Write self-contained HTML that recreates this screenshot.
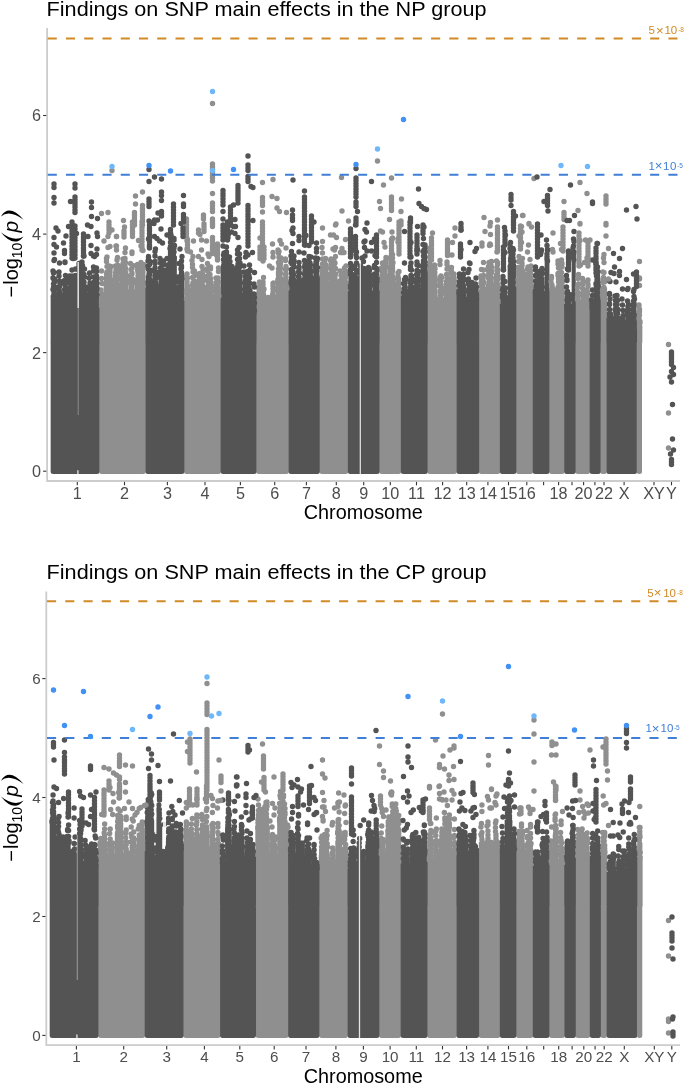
<!DOCTYPE html>
<html><head><meta charset="utf-8"><style>
html,body{margin:0;padding:0;background:#fff;}
svg{display:block;font-family:"Liberation Sans",sans-serif;will-change:transform;}
</style></head><body>
<svg width="685" height="1084" viewBox="0 0 685 1084">
<rect width="685" height="1084" fill="#fff"/>
<text x="46.6" y="16.4" font-size="20" fill="#000" textLength="440" lengthAdjust="spacingAndGlyphs">Findings on SNP main effects in the NP group</text>
<g transform="matrix(1,0,0,1,0,0)">
<rect x="99.10" y="340.8" width="46.70" height="133.1" rx="2.5" fill="#8f8f8f"/>
<rect x="184.00" y="340.8" width="37.00" height="133.1" rx="2.5" fill="#8f8f8f"/>
<rect x="256.20" y="340.8" width="32.70" height="133.1" rx="2.5" fill="#8f8f8f"/>
<rect x="319.50" y="340.8" width="28.70" height="133.1" rx="2.5" fill="#8f8f8f"/>
<rect x="379.30" y="340.8" width="21.90" height="133.1" rx="2.5" fill="#8f8f8f"/>
<rect x="427.40" y="340.8" width="29.50" height="133.1" rx="2.5" fill="#8f8f8f"/>
<rect x="478.80" y="340.8" width="21.40" height="133.1" rx="2.5" fill="#8f8f8f"/>
<rect x="516.00" y="340.8" width="17.10" height="133.1" rx="2.5" fill="#8f8f8f"/>
<rect x="549.10" y="340.8" width="15.40" height="133.1" rx="2.5" fill="#8f8f8f"/>
<rect x="575.40" y="340.8" width="14.60" height="133.1" rx="2.5" fill="#8f8f8f"/>
<rect x="600.40" y="340.8" width="6.40" height="133.1" rx="2.5" fill="#8f8f8f"/>
<rect x="50.65" y="340.8" width="48.80" height="133.1" rx="2.5" fill="#545454"/>
<rect x="145.45" y="340.8" width="38.90" height="133.1" rx="2.5" fill="#545454"/>
<rect x="220.65" y="340.8" width="35.90" height="133.1" rx="2.5" fill="#545454"/>
<rect x="288.55" y="340.8" width="31.30" height="133.1" rx="2.5" fill="#545454"/>
<rect x="347.85" y="340.8" width="31.80" height="133.1" rx="2.5" fill="#545454"/>
<rect x="400.85" y="340.8" width="26.90" height="133.1" rx="2.5" fill="#545454"/>
<rect x="456.55" y="340.8" width="22.60" height="133.1" rx="2.5" fill="#545454"/>
<rect x="499.85" y="340.8" width="16.50" height="133.1" rx="2.5" fill="#545454"/>
<rect x="532.75" y="340.8" width="16.70" height="133.1" rx="2.5" fill="#545454"/>
<rect x="564.15" y="340.8" width="11.60" height="133.1" rx="2.5" fill="#545454"/>
<rect x="589.65" y="340.8" width="11.10" height="133.1" rx="2.5" fill="#545454"/>
<rect x="606.45" y="340.8" width="30.60" height="133.1" rx="2.5" fill="#545454"/>
<rect x="636.7" y="340.8" width="5.3" height="133.1" rx="2.5" fill="#8f8f8f"/>
<path d="M98.75 304.0H104.35V342.8H98.75ZM103.65 282.3H113.35V342.8H103.65ZM112.65 285.0H120.35V342.8H112.65ZM119.65 270.6H128.35V342.8H119.65ZM127.65 289.6H135.35V342.8H127.65ZM134.65 284.0H146.15V342.8H134.65ZM183.65 296.9H190.35V342.8H183.65ZM189.65 292.5H197.35V342.8H189.65ZM196.65 285.2H205.35V342.8H196.65ZM204.65 291.0H213.35V342.8H204.65ZM212.65 294.0H221.35V342.8H212.65ZM255.85 299.8H266.35V342.8H255.85ZM265.65 304.2H276.35V342.8H265.65ZM275.65 277.9H283.35V342.8H275.65ZM282.65 286.7H289.25V342.8H282.65ZM319.15 275.0H328.35V342.8H319.15ZM327.65 284.0H338.35V342.8H327.65ZM337.65 289.6H348.55V342.8H337.65ZM378.95 282.3H388.35V342.8H378.95ZM387.65 276.4H395.35V342.8H387.65ZM394.65 288.1H401.55V342.8H394.65ZM427.05 270.6H437.35V342.8H427.05ZM436.65 299.8H444.35V342.8H436.65ZM443.65 289.6H457.25V342.8H443.65ZM478.45 291.0H486.35V342.8H478.45ZM485.65 288.1H494.35V342.8H485.65ZM493.65 285.2H500.55V342.8H493.65ZM515.65 283.0H525.35V342.8H515.65ZM524.65 286.7H533.45V342.8H524.65ZM548.75 288.0H556.35V342.8H548.75ZM555.65 285.2H564.85V342.8H555.65ZM575.05 299.8H590.35V342.8H575.05ZM600.05 296.6H607.15V342.8H600.05ZM636.35 326.0H642.35V342.8H636.35Z" fill="#8f8f8f"/>
<path d="M50.65 295.4H57.35V342.8H50.65ZM56.65 298.3H62.35V342.8H56.65ZM61.65 296.9H68.75V342.8H61.65ZM68.05 296.0H70.15V342.8H68.05ZM69.45 292.0H78.55V342.8H69.45ZM77.85 292.0H79.95V342.8H77.85ZM79.25 289.6H87.35V342.8H79.25ZM86.65 292.5H99.45V342.8H86.65ZM145.45 282.3H152.35V342.8H145.45ZM151.65 285.2H158.35V342.8H151.65ZM157.65 283.7H166.35V342.8H157.65ZM165.65 284.0H168.35V342.8H165.65ZM167.65 256.0H176.85V342.8H167.65ZM176.15 298.3H179.35V342.8H176.15ZM178.65 276.4H184.35V342.8H178.65ZM220.65 270.6H235.35V342.8H220.65ZM234.65 273.5H242.35V342.8H234.65ZM241.65 292.5H252.35V342.8H241.65ZM251.65 311.5H256.55V342.8H251.65ZM288.55 280.8H296.35V342.8H288.55ZM295.65 285.2H302.35V342.8H295.65ZM301.65 279.4H313.35V342.8H301.65ZM312.65 276.4H319.85V342.8H312.65ZM347.85 291.0H359.55V342.8H347.85ZM358.85 291.0H361.75V342.8H358.85ZM361.05 291.0H372.35V342.8H361.05ZM371.65 291.0H379.65V342.8H371.65ZM400.85 298.3H408.35V342.8H400.85ZM407.65 291.0H414.35V342.8H407.65ZM413.65 288.0H421.35V342.8H413.65ZM420.65 267.7H427.75V342.8H420.65ZM456.55 291.0H466.35V342.8H456.55ZM465.65 296.9H479.15V342.8H465.65ZM499.85 304.0H508.35V342.8H499.85ZM507.65 265.0H516.35V342.8H507.65ZM532.75 291.0H545.35V342.8H532.75ZM544.65 259.0H549.45V342.8H544.65ZM564.15 304.0H572.35V342.8H564.15ZM571.65 258.0H575.75V342.8H571.65ZM589.65 307.0H594.35V342.8H589.65ZM593.65 284.0H600.75V342.8H593.65ZM606.45 317.9H613.35V342.8H606.45ZM612.65 320.6H620.35V342.8H612.65ZM619.65 322.5H625.35V342.8H619.65ZM624.65 324.3H631.35V342.8H624.65ZM630.65 313.2H637.05V342.8H630.65Z" fill="#545454"/>
<path d="M101.5 306h0M101.5 303h0M101.5 301h0M101.5 299.5h0M102 296.5h0M101.5 295.5h0M102 294h0M101 290h0M102 283.5h0M101.5 278.5h0M101.5 271h0M106 284.5h0M106.5 282.5h0M106.5 279.5h0M106.5 277h0M106.5 274h0M107 272h0M107 266.5h0M106.5 261.5h0M106.5 258.5h0M107 257h0M109.5 284.5h0M110 281.5h0M109 280.5h0M109.5 277h0M109.5 273h0M109.5 271.5h0M109.5 267h0M109.5 266h0M110 284.5h0M110 283h0M110.5 281.5h0M110.5 280.5h0M110 278h0M110 275h0M110 271.5h0M110 269h0M111 266.5h0M110 246.5h0M108 247.5h0M115 287h0M115.5 284h0M116 282.5h0M115.5 280.5h0M115 279.5h0M115.5 276.5h0M115.5 273h0M116 270h0M115.5 266h0M117 287h0M117.5 284h0M117 282.5h0M118 279.5h0M118 278h0M117.5 274h0M117 271h0M118 270h0M117.5 267.5h0M117.5 265h0M117 260h0M117.5 257.5h0M116.5 250h0M116.5 236.5h0M122.5 272.5h0M122.5 271.5h0M122 269.5h0M122.5 268.5h0M122 266h0M123 263.5h0M123 259h0M125 272.5h0M125 271.5h0M125.5 268.5h0M125 265.5h0M125.5 262.5h0M125 258.5h0M125 252.5h0M125.5 248h0M124.5 227h0M131 291.5h0M131 289h0M131 287h0M130.5 283.5h0M130.5 280.5h0M130.5 277h0M130.5 275.5h0M131 269.5h0M130.5 263.5h0M132.5 291.5h0M132 289h0M132 286.5h0M132.5 283.5h0M132.5 282h0M132.5 279h0M132 274h0M132 273h0M132 268h0M133 265.5h0M132 252h0M132 253.5h0M138 286h0M137.5 283h0M137.5 281h0M137.5 279.5h0M138 276h0M138 272.5h0M137.5 270h0M137.5 266.5h0M137.5 264.5h0M140.5 286h0M141.5 283.5h0M140.5 281.5h0M141 280.5h0M141 279h0M140.5 276.5h0M140.5 272.5h0M141 270.5h0M141 269.5h0M140.5 267.5h0M141 266h0M141 262.5h0M143.5 286h0M143 283.5h0M143 281.5h0M143 280.5h0M143 277.5h0M143 275.5h0M143 272h0M143.5 268h0M143.5 264.5h0M143 250.5h0M138.5 240.5h0M141 246h0M186.5 299h0M187 296h0M186.5 293h0M186.5 290h0M187 286.5h0M187 283h0M187 280.5h0M187 274h0M187 299h0M188 296h0M187 294.5h0M187.5 292h0M187.5 289h0M187.5 287.5h0M187.5 286.5h0M187 284.5h0M187 280h0M187.5 278h0M187 249h0M187 240.5h0M192.5 294.5h0M192.5 292.5h0M192.5 290h0M193 287.5h0M192.5 285h0M193 282.5h0M192.5 277.5h0M193 272h0M192.5 267.5h0M192.5 264.5h0M194 294.5h0M194.5 291.5h0M194.5 289.5h0M194.5 287h0M194 284h0M194.5 281h0M195 275.5h0M194.5 272.5h0M194.5 271h0M193.5 241h0M193 256.5h0M199 287h0M199 284.5h0M199.5 283h0M199.5 280.5h0M199.5 278.5h0M200 277h0M199.5 275.5h0M199.5 273.5h0M202.5 287h0M202.5 285.5h0M202 284h0M202.5 281.5h0M203 279h0M203 276h0M202.5 274h0M203 269.5h0M202 266.5h0M202 259.5h0M200 234.5h0M201.5 250h0M208 293h0M208 291h0M207.5 290h0M207 287.5h0M208 286h0M208 282h0M207.5 280.5h0M207.5 276h0M207.5 271h0M207 269.5h0M207.5 268.5h0M207.5 263.5h0M210 293h0M211 290.5h0M210 287.5h0M211 286h0M210.5 283.5h0M210.5 281.5h0M210.5 278.5h0M210 274.5h0M210.5 269h0M210.5 267h0M208 254h0M209 256.5h0M216 296h0M216 293.5h0M215.5 291.5h0M215.5 288.5h0M216 284.5h0M216 282.5h0M216 278h0M219 296h0M218.5 293h0M218.5 290.5h0M218.5 288.5h0M218 287h0M218 284.5h0M218.5 282h0M218 278h0M218.5 271.5h0M218.5 268h0M216.5 255h0M259.5 302h0M259 301h0M258.5 298.5h0M258.5 296.5h0M258.5 295h0M258.5 293.5h0M259 289.5h0M259.5 286h0M259.5 282h0M262.5 302h0M263.5 299.5h0M263.5 298.5h0M263 297h0M263 295.5h0M262.5 293h0M263 288.5h0M263 285h0M263 282h0M263 302h0M263 299.5h0M263 298.5h0M263.5 294.5h0M263.5 290.5h0M264 289h0M263 284h0M263.5 277.5h0M260 238h0M263 261h0M269 306h0M268 304h0M268.5 301.5h0M268 300h0M268 297.5h0M273 306h0M273 304.5h0M273.5 303h0M273.5 300.5h0M273 297h0M272.5 295h0M273.5 290.5h0M273 286h0M273 283.5h0M273.5 306h0M273 303.5h0M274 302h0M274 299h0M273 298h0M273.5 296h0M273 292.5h0M273 289h0M273.5 287.5h0M273.5 283h0M269.5 266h0M272 268h0M278 280h0M278.5 277.5h0M278.5 274.5h0M278.5 272.5h0M278.5 269h0M279 265h0M278.5 262.5h0M279 257.5h0M278.5 253.5h0M279 251.5h0M278 250h0M280.5 280h0M280.5 278.5h0M280 277h0M280 274.5h0M280.5 273h0M280 269.5h0M280.5 268h0M280.5 264h0M280.5 262.5h0M281 258h0M280 240.5h0M285.5 288.5h0M286 286h0M285.5 284.5h0M285.5 282.5h0M285.5 280h0M285.5 278.5h0M285.5 274.5h0M285.5 269.5h0M286 267h0M285.5 260.5h0M285.5 259h0M287 288.5h0M286.5 286.5h0M286.5 285.5h0M286 282.5h0M286.5 281h0M286 277h0M286 273.5h0M286.5 269h0M286 266.5h0M286 248h0M322.5 277h0M322 274.5h0M322.5 272.5h0M322.5 269.5h0M322.5 267.5h0M322.5 264h0M322.5 259h0M322.5 253h0M322 247.5h0M325.5 277h0M325 275h0M326 272.5h0M325 270.5h0M325.5 269h0M326 267h0M325 266h0M325.5 264.5h0M325 260h0M325.5 258.5h0M322.5 241.5h0M331 286h0M330.5 284h0M330.5 282.5h0M331 281h0M330.5 279h0M330.5 275.5h0M331 273.5h0M330.5 268.5h0M331 264.5h0M330.5 260.5h0M331 259h0M334 286h0M333.5 284h0M334 281h0M333.5 279.5h0M333.5 277h0M334 273h0M333.5 269h0M333.5 267.5h0M334 265h0M334 260.5h0M335.5 286h0M335.5 284.5h0M335.5 283.5h0M335.5 281h0M335 279.5h0M335 276.5h0M335.5 274h0M335.5 268.5h0M335 263h0M335.5 256.5h0M334.5 250h0M333 249h0M340.5 291.5h0M340 290h0M340.5 288.5h0M340.5 285.5h0M340 282.5h0M340.5 280.5h0M341 275.5h0M340 271h0M344.5 291.5h0M344.5 289.5h0M345 288.5h0M344.5 285.5h0M344.5 283h0M344.5 280.5h0M344.5 278.5h0M344.5 275.5h0M344.5 273h0M344.5 268h0M346 291.5h0M346 290h0M345 289h0M346 287.5h0M345.5 285h0M346 282.5h0M345 279.5h0M345.5 277.5h0M345.5 276h0M346 274.5h0M345.5 271h0M346 266h0M342.5 252.5h0M340.5 252.5h0M344 252.5h0M382 284.5h0M381.5 282h0M381.5 280.5h0M381.5 278h0M382 275.5h0M382 272h0M381.5 268h0M382.5 263h0M385.5 284.5h0M385.5 283h0M385.5 280h0M385.5 277h0M386 275.5h0M385 272.5h0M385 271h0M385.5 267.5h0M386 264.5h0M385.5 261.5h0M386 259.5h0M386 257.5h0M384 242.5h0M385 247h0M390.5 278.5h0M391 277h0M391 275.5h0M390.5 274h0M390.5 271h0M390 268h0M390.5 267h0M391 262h0M390.5 257.5h0M392.5 278.5h0M392.5 276h0M392 275h0M392 273h0M392.5 271h0M392.5 269.5h0M392.5 267.5h0M392.5 265h0M392.5 264h0M393 262.5h0M392.5 258h0M392.5 254.5h0M392 232h0M392.5 238h0M397.5 290h0M397.5 288h0M397.5 285.5h0M397.5 283h0M397.5 279h0M398 278h0M398 273h0M398.5 290h0M398 288h0M398.5 286.5h0M398.5 284.5h0M399 283.5h0M398.5 280.5h0M398.5 278.5h0M398 276.5h0M399 271.5h0M398 239h0M398 242h0M430.5 272.5h0M430.5 271.5h0M430 270h0M429.5 267h0M430 265.5h0M429.5 263.5h0M430.5 259h0M430 256.5h0M429.5 252h0M430.5 251h0M430 248h0M434.5 272.5h0M434 271h0M435 268.5h0M434.5 267h0M434.5 265h0M439.5 302h0M439 299h0M440 298h0M440 296h0M440 292.5h0M440 291h0M439.5 286h0M439.5 285h0M440 282h0M439.5 280h0M440 277.5h0M441.5 302h0M441.5 299h0M441 297.5h0M441.5 294h0M441.5 292.5h0M442 291h0M441.5 288h0M441 284.5h0M441 280.5h0M441.5 277.5h0M441 276h0M440 264.5h0M440 260.5h0M446.5 291.5h0M446.5 289h0M446.5 286h0M446.5 284.5h0M446.5 281.5h0M447 278h0M446.5 274.5h0M447 269h0M447 264.5h0M447 262h0M451 291.5h0M451.5 289.5h0M451.5 287h0M451.5 285.5h0M451.5 284h0M451 281h0M451.5 278h0M451.5 274h0M451 272h0M451.5 271h0M451.5 267.5h0M454 291.5h0M454.5 289h0M454.5 286.5h0M454 285h0M454 283h0M454.5 281h0M454 278h0M454 274h0M448.5 255h0M452 255h0M452.5 242.5h0M481.5 293h0M482 291.5h0M481.5 290.5h0M482 288h0M481.5 286.5h0M481 283h0M482 281.5h0M481.5 279.5h0M481.5 277.5h0M481 276h0M481.5 269.5h0M483 293h0M483 291h0M484 289h0M483 287h0M483.5 283h0M483.5 282h0M483 278.5h0M483.5 275.5h0M483.5 270h0M483.5 262.5h0M482 243h0M482 246h0M488.5 290h0M488.5 289h0M488.5 287.5h0M488.5 285.5h0M489 282h0M488.5 278h0M488 275.5h0M488.5 271h0M488 268.5h0M488.5 266.5h0M489 262.5h0M491.5 290h0M492 289h0M491.5 287h0M492 284.5h0M491 283.5h0M491 281h0M491 277h0M491.5 272.5h0M491.5 271h0M491 269h0M491.5 267h0M491 265.5h0M491.5 261.5h0M489.5 245.5h0M490.5 245h0M496.5 287h0M496.5 285h0M497 283h0M496.5 281.5h0M496.5 279.5h0M496 278.5h0M496.5 275h0M497 270.5h0M497 268h0M496.5 261h0M498 287h0M497.5 284.5h0M497 282h0M497.5 280h0M497.5 278.5h0M497.5 276.5h0M497.5 274.5h0M497.5 271.5h0M498 270h0M497 267.5h0M497.5 264.5h0M497.5 262.5h0M497.5 246h0M497 252h0M518 285h0M518.5 283h0M518.5 281h0M518 279.5h0M519 277.5h0M518.5 274.5h0M518.5 271h0M518.5 267.5h0M518.5 261.5h0M519 256.5h0M522.5 285h0M522 283h0M522.5 281.5h0M522 278.5h0M521.5 275h0M522 273.5h0M522 271h0M522 265.5h0M522 263h0M522 285h0M522.5 283h0M522.5 279h0M522.5 276h0M523 272h0M522 269.5h0M522 264h0M522.5 258.5h0M519 236h0M527.5 288.5h0M527.5 287h0M527.5 284.5h0M527.5 283h0M527.5 281h0M527 278h0M527 277h0M528 275.5h0M527.5 274h0M527.5 269h0M528 267h0M530.5 288.5h0M531 286.5h0M530.5 285h0M530.5 283.5h0M530.5 281.5h0M531 278h0M530.5 273.5h0M530.5 270.5h0M531 266h0M530 259.5h0M528.5 245h0M527.5 252h0M552 290h0M552 288.5h0M552 287h0M552 285h0M551 281.5h0M551.5 278h0M551.5 276.5h0M553 290h0M553 288.5h0M552.5 249.5h0M553 252h0M558.5 287h0M559 285h0M558.5 282h0M558.5 279h0M558 275.5h0M558 273.5h0M558.5 268h0M558 264h0M558 261h0M562 287h0M561.5 285.5h0M562 283.5h0M561.5 282h0M562.5 281h0M561.5 279h0M562 277.5h0M561.5 272.5h0M562 267h0M562 263.5h0M561.5 260h0M560.5 243.5h0M561.5 249.5h0M578.5 302h0M577.5 299.5h0M577.5 298.5h0M577.5 297h0M578.5 295h0M578 293h0M577.5 292h0M577.5 287.5h0M578.5 284h0M578 278.5h0M578.5 274.5h0M583 302h0M583 300.5h0M583 299h0M583 297h0M583 296h0M582.5 294.5h0M583 292.5h0M582.5 288.5h0M582.5 284.5h0M583 281.5h0M582.5 278.5h0M587 302h0M587.5 299.5h0M587 297h0M587 295.5h0M587.5 293.5h0M587.5 292.5h0M587 290h0M588 286.5h0M588 284.5h0M587.5 282h0M588 280h0M580 240.5h0M584.5 262.5h0M580.5 265h0M587 258h0M603 298.5h0M602.5 295.5h0M603 293h0M602.5 290.5h0M603.5 287.5h0M603 282.5h0M603 279h0M603.5 277.5h0M603 272h0M604 298.5h0M604.5 297h0M604 295h0M604.5 294h0M604.5 291.5h0M604.5 289h0M604 287.5h0M604.5 282h0M604.5 279.5h0M604 272.5h0M604 262.5h0M603.5 258h0M639.5 328h0M639.5 325.5h0M640 323h0M639.5 322h0M639 319h0M639.5 315h0M639.5 311.5h0M639 309.5h0M639 305h0M639.5 326.5h0M639.5 324h0M640 321.5h0M639 318h0M639 315.5h0M639 314.5h0M639.5 309.5h0M639 307.5h0M639.5 278h0" stroke="#8f8f8f" stroke-width="5.4" stroke-linecap="round" fill="none"/>
<path d="M54 297.5h0M53.5 296h0M54 293h0M54 291.5h0M53 289.5h0M53.5 287.5h0M53.5 284h0M54 280h0M53 278h0M53.5 273h0M53 271h0M54.5 297.5h0M55 296h0M54.5 293.5h0M54 292h0M54 289.5h0M54.5 286.5h0M54.5 282h0M54.5 279h0M54 272.5h0M54 260.5h0M54.5 259.5h0M60 300.5h0M59.5 298h0M59.5 295h0M59.5 292h0M59 289.5h0M59.5 286.5h0M60 283.5h0M59.5 281h0M59 276h0M59 272h0M59.5 263h0M65 299h0M64.5 296.5h0M65 295.5h0M64.5 294.5h0M65 292.5h0M64.5 289.5h0M65 285h0M64.5 284h0M64.5 280.5h0M66 299h0M66.5 296.5h0M66.5 293.5h0M66 291.5h0M66 288.5h0M65.5 283.5h0M65.5 280h0M65.5 275.5h0M65 262h0M65 262.5h0M68.5 298h0M69 296.5h0M69.5 294.5h0M69.5 293h0M69.5 290h0M69 288.5h0M69.5 287.5h0M69.5 282.5h0M69 281.5h0M69 277.5h0M69.5 276h0M72.5 294h0M72 292.5h0M72 290.5h0M72 288h0M72 285.5h0M72.5 284h0M72.5 281h0M72 276h0M72 270h0M75.5 294h0M76 292h0M75.5 289h0M75.5 288h0M76 284.5h0M75.5 280.5h0M75 277h0M75.5 275.5h0M75.5 269h0M73.5 258.5h0M73 258.5h0M79.5 294h0M79 292.5h0M79.5 290h0M79 286.5h0M79.5 284h0M78.5 281.5h0M78.5 277.5h0M79 274.5h0M79 270.5h0M79 266.5h0M79 265h0M79 263.5h0M82 291.5h0M82 290h0M82 288h0M82 285h0M82 284h0M81.5 280h0M82.5 276.5h0M82.5 273.5h0M82 270.5h0M82.5 265.5h0M82 262h0M84 291.5h0M84 290.5h0M84.5 289h0M85 287h0M84 285h0M84 282h0M84.5 277h0M84 274.5h0M84.5 269h0M84 256h0M83.5 256h0M89 294.5h0M90 291.5h0M89 289.5h0M89.5 286.5h0M90 283h0M89 278h0M89.5 273h0M93.5 294.5h0M93 292.5h0M94 291h0M93 290h0M94 286.5h0M93 284h0M93.5 282.5h0M93.5 277h0M93.5 271h0M93.5 267h0M97 294.5h0M96 292.5h0M96.5 290.5h0M97 288h0M96.5 285.5h0M97 283h0M96.5 281.5h0M96.5 280h0M96.5 278h0M96.5 276h0M96.5 271.5h0M96.5 268h0M93.5 256h0M96.5 254.5h0M94.5 256.5h0M148.5 284.5h0M148 282h0M148.5 281h0M148.5 279h0M148.5 277h0M149 274h0M148.5 269.5h0M148 266h0M148 261h0M148.5 257.5h0M148.5 256.5h0M149 284.5h0M150 283h0M149.5 280.5h0M149.5 279h0M149 277.5h0M149.5 275h0M149.5 273.5h0M150 270h0M149.5 264.5h0M150 261.5h0M149.5 246.5h0M148.5 239h0M154.5 287h0M154.5 285.5h0M154 284h0M154.5 282h0M154.5 280.5h0M155 277.5h0M155 276h0M154.5 271.5h0M155 268h0M155 263.5h0M155 256h0M156 287h0M155.5 285.5h0M155.5 284h0M155.5 282h0M155.5 278.5h0M155 275.5h0M156 273.5h0M156 272h0M155 261.5h0M155.5 249h0M155 251.5h0M160.5 285.5h0M161 282.5h0M161 280h0M160 277.5h0M160.5 274.5h0M160.5 271.5h0M160.5 268h0M160.5 263h0M160 258.5h0M164 285.5h0M163 283.5h0M163 282h0M164 279.5h0M164 275.5h0M164 270.5h0M163 265h0M163.5 261h0M162.5 243h0M161 229h0M167.5 286h0M166.5 285h0M167.5 282h0M166.5 281h0M167 278h0M167 275h0M167.5 271h0M166.5 270h0M167.5 265h0M167 258.5h0M171 258h0M170.5 256.5h0M170.5 254.5h0M170.5 252h0M171 250h0M170 248.5h0M170.5 246.5h0M170.5 242.5h0M171 240h0M170.5 237.5h0M171 235h0M170.5 232.5h0M170.5 229.5h0M174 258h0M173.5 256h0M173.5 253.5h0M174 252h0M174 248h0M174.5 245.5h0M174 240h0M174 238.5h0M177.5 300.5h0M178 298h0M178 296h0M177.5 295h0M177.5 293h0M177.5 289h0M178 287.5h0M178 282h0M178 279h0M178 277h0M179 263.5h0M182 278.5h0M182 276h0M181.5 274h0M181.5 272.5h0M181 269h0M181.5 267.5h0M181.5 266h0M181 264.5h0M181.5 261h0M182 256.5h0M224 272.5h0M223.5 270h0M223.5 268.5h0M223.5 266h0M224 262.5h0M223.5 259.5h0M223.5 255h0M224 253h0M223 246h0M226 272.5h0M226.5 271.5h0M226.5 269h0M226.5 268h0M226.5 264.5h0M226.5 261.5h0M226 259.5h0M226 257.5h0M226.5 255h0M226.5 252h0M226.5 247h0M230 272.5h0M230 271h0M229.5 269h0M229.5 265.5h0M230 261.5h0M229.5 257h0M232 272.5h0M232.5 271.5h0M232.5 270h0M233 268.5h0M232 266.5h0M228.5 234h0M231.5 232h0M227 232h0M228 237.5h0M237.5 275.5h0M237 273.5h0M237.5 271.5h0M238 269h0M237.5 267h0M238 266h0M238 264h0M237.5 259.5h0M237.5 254h0M237.5 250h0M239.5 275.5h0M239.5 274h0M239 272h0M239 270.5h0M239.5 267h0M240 263h0M239.5 258.5h0M239.5 254h0M239 247.5h0M238 237.5h0M245 294.5h0M245 292.5h0M244.5 289.5h0M245 288h0M245 287h0M244.5 283h0M245 281h0M245 276.5h0M244 272h0M244 266h0M247.5 294.5h0M247.5 292h0M247.5 288.5h0M247.5 286.5h0M247 284h0M247.5 282.5h0M247.5 280.5h0M247.5 275.5h0M247.5 271.5h0M249.5 294.5h0M250 292h0M250 290.5h0M249 287h0M249.5 283h0M249.5 278h0M249 275.5h0M249.5 271h0M250 270h0M249.5 265h0M245.5 257h0M246 252.5h0M253.5 313.5h0M254 312.5h0M254.5 310.5h0M254 308h0M254 305.5h0M254.5 303h0M254 301.5h0M254.5 297.5h0M254 294h0M254.5 287h0M254 284h0M254.5 272.5h0M291 283h0M291.5 280.5h0M291.5 278h0M292 276.5h0M291.5 273.5h0M291.5 271h0M291.5 269.5h0M292 264h0M291 262.5h0M291.5 260h0M291 256h0M291.5 251.5h0M293.5 283h0M293.5 280.5h0M293.5 279.5h0M293 278h0M293 276h0M293.5 274.5h0M293 272h0M294 267h0M293.5 263.5h0M294 260.5h0M293 259h0M294 256h0M292.5 243.5h0M292 230.5h0M298.5 287h0M298.5 285.5h0M298.5 283.5h0M298.5 281h0M299 279h0M298.5 276.5h0M298.5 272h0M299 269h0M299 262.5h0M299.5 287h0M299.5 285.5h0M299.5 282.5h0M299.5 280h0M299 277h0M299.5 273h0M299 267h0M299 252h0M299 240.5h0M305 281.5h0M305 280h0M304.5 279h0M305 276h0M304.5 274h0M305 271h0M304.5 267h0M305 264.5h0M304.5 260.5h0M304 253h0M309 281.5h0M308.5 278.5h0M309 276h0M308.5 274h0M309 271h0M308.5 267h0M308.5 262.5h0M309 260.5h0M309 256.5h0M311 281.5h0M310.5 279.5h0M310 278.5h0M310.5 276h0M310.5 272.5h0M310.5 270.5h0M310 267.5h0M310.5 265h0M310 263h0M311 257h0M305.5 245h0M309 245.5h0M306 235.5h0M315 278.5h0M316 276h0M316 274.5h0M315.5 271.5h0M315.5 268h0M315.5 265h0M316 262h0M315.5 258h0M316.5 278.5h0M316.5 276h0M316.5 273h0M317 271h0M317.5 267.5h0M316.5 263.5h0M317 260.5h0M317.5 258.5h0M316.5 252h0M316.5 248.5h0M316.5 243h0M350.5 293h0M351.5 291.5h0M351 289h0M350.5 288h0M351 287h0M350.5 285.5h0M351 282h0M351 280h0M351 277.5h0M350.5 274.5h0M350.5 272h0M350.5 269.5h0M351 266.5h0M350.5 263.5h0M355 293h0M355 291.5h0M355 289h0M355 286h0M354.5 283.5h0M355 281h0M355 278h0M355 274.5h0M354.5 268.5h0M354.5 267h0M355 266h0M356.5 293h0M357 290.5h0M357 288h0M356.5 284.5h0M356.5 282.5h0M357 278h0M357 272h0M356.5 270.5h0M356.5 263h0M356 255h0M356.5 252h0M356.5 257.5h0M360 293h0M360.5 291h0M360.5 290h0M360 287h0M360.5 283.5h0M360 280.5h0M360.5 277.5h0M360 273h0M360.5 269h0M360.5 266h0M362 258h0M364.5 293h0M364.5 291.5h0M363.5 289h0M364 286.5h0M364 283h0M363.5 279.5h0M364.5 278h0M363.5 276.5h0M363.5 275.5h0M364.5 271.5h0M364 268.5h0M363.5 261.5h0M368.5 293h0M368.5 292h0M368.5 290h0M368.5 288.5h0M368 287h0M368 283.5h0M368.5 281h0M368 277.5h0M368 275.5h0M368.5 273h0M368.5 267.5h0M369.5 293h0M369.5 290.5h0M369.5 289.5h0M369.5 287.5h0M369 286.5h0M369.5 282.5h0M369 280h0M370 276.5h0M369.5 274.5h0M369.5 270.5h0M365 256h0M364.5 247.5h0M364 242h0M375 293h0M375 291h0M375 288h0M375 287h0M374.5 285.5h0M374 284.5h0M374.5 280.5h0M374 279h0M374.5 274h0M374 267.5h0M374.5 265.5h0M376.5 293h0M376.5 290.5h0M376.5 289.5h0M376.5 287.5h0M376.5 285h0M376.5 282.5h0M377 281.5h0M376.5 279.5h0M377 278.5h0M376.5 274.5h0M377 270.5h0M376.5 268.5h0M376.5 262.5h0M374.5 239h0M375 255.5h0M404 300.5h0M403.5 297.5h0M404 295.5h0M403.5 292.5h0M404 288.5h0M403.5 283.5h0M404.5 279.5h0M406 300.5h0M405.5 297.5h0M406 295h0M405.5 293.5h0M405 290.5h0M405 286.5h0M405 283h0M405.5 280h0M405.5 277.5h0M404.5 263h0M411 293h0M410.5 291.5h0M410 290h0M410 289h0M410.5 287h0M410.5 283h0M411 282h0M410.5 280h0M411 275.5h0M410.5 269.5h0M410.5 266.5h0M411 263h0M412 290.5h0M411.5 289h0M411 287.5h0M411 285.5h0M411.5 282h0M412 278.5h0M411 277h0M411.5 276h0M411.5 270h0M411 242.5h0M411 257h0M416 290h0M416 288.5h0M416 286.5h0M417 284h0M416 282h0M417 279h0M416.5 274.5h0M417 270.5h0M417 265h0M417 262h0M418 290h0M418 288h0M418.5 286h0M418 283.5h0M418.5 282h0M419 279h0M418 274.5h0M418.5 271.5h0M418.5 265.5h0M417.5 249.5h0M417 250h0M423.5 269.5h0M424 268.5h0M423 267h0M423.5 265.5h0M423.5 262.5h0M423.5 260.5h0M423.5 256h0M424 255h0M423 251.5h0M424 250h0M423 244.5h0M423.5 238.5h0M424.5 269.5h0M424.5 267h0M425 265.5h0M424.5 264h0M425 261.5h0M425 257.5h0M424.5 255.5h0M425 251.5h0M425 248.5h0M425 246.5h0M425 245h0M424 227h0M459 293h0M459 291h0M460 289h0M459 285.5h0M459.5 283h0M459.5 281.5h0M459.5 277h0M459.5 274h0M463 293h0M463 292h0M463.5 289h0M463.5 286.5h0M463 284.5h0M463.5 280h0M463.5 278.5h0M463.5 274.5h0M463.5 269h0M461 230h0M461 249.5h0M468.5 299h0M469 296h0M469 293.5h0M468.5 291.5h0M468.5 290h0M469 288.5h0M468.5 284h0M468 281h0M468.5 279h0M468 272.5h0M469 269.5h0M472 299h0M472 297h0M472 295.5h0M472.5 293.5h0M472.5 292.5h0M472 289h0M472 287.5h0M472.5 286h0M472 282.5h0M475.5 299h0M476 298h0M476.5 296h0M476.5 294.5h0M476 291h0M476 289.5h0M476 288.5h0M475.5 287h0M475.5 284h0M476 278h0M476.5 299h0M476 296.5h0M476.5 294h0M476 292.5h0M476 290.5h0M476.5 287h0M475 251.5h0M469.5 263h0M470 263.5h0M502.5 306h0M503 304h0M503 302.5h0M503 300.5h0M502.5 297.5h0M502.5 294.5h0M502.5 290h0M503 287.5h0M503 283h0M503 279h0M503 276.5h0M505 306h0M505 304.5h0M505.5 302.5h0M506 301.5h0M505.5 298.5h0M505.5 297h0M505 292.5h0M505.5 288h0M505 281.5h0M503.5 269.5h0M505 252.5h0M510.5 267h0M510.5 265.5h0M511 263h0M510.5 261h0M510.5 258.5h0M511 256h0M510.5 252h0M510 248.5h0M510.5 247h0M510 244h0M510.5 242.5h0M513 267h0M513.5 265.5h0M513 263.5h0M513.5 261.5h0M513 259.5h0M513 258h0M513 254h0M513.5 250h0M513 248.5h0M535.5 293h0M535.5 290.5h0M536 287.5h0M536 285h0M535.5 281h0M535.5 275.5h0M535.5 270h0M535.5 267h0M539 293h0M539.5 290h0M538.5 288h0M539 286.5h0M539.5 284h0M539.5 281h0M539 279.5h0M539 275h0M538.5 273h0M539 271.5h0M542.5 293h0M542 291.5h0M542 289h0M542.5 287h0M542 285h0M542 283h0M542 281.5h0M542 278.5h0M542.5 273.5h0M542.5 269.5h0M542 268.5h0M539 251.5h0M540.5 254.5h0M541 252.5h0M547.5 261h0M547 258.5h0M547 256.5h0M547 254h0M547.5 250.5h0M547.5 249.5h0M547 245.5h0M546.5 240h0M567 306h0M567.5 304.5h0M567.5 302.5h0M567.5 301h0M567 300h0M567.5 297h0M567 293h0M567.5 291.5h0M566.5 287h0M567 280.5h0M567 279.5h0M566.5 275.5h0M569 306h0M569 304h0M569 302h0M569.5 300h0M569.5 297.5h0M570 294.5h0M569 252h0M567.5 269h0M574 260h0M573.5 258h0M573.5 255h0M573.5 253.5h0M574 252h0M573 248h0M573.5 246h0M574 241.5h0M573.5 239h0M574 231.5h0M592.5 309h0M592 307h0M592 305h0M592 303h0M592.5 301.5h0M591.5 300h0M592.5 295.5h0M592.5 290h0M592.5 260h0M597 286h0M596 283.5h0M597 282h0M597 280h0M596.5 276h0M597 272.5h0M596.5 268.5h0M596 263.5h0M598 286h0M597.5 284h0M598 282h0M597.5 280h0M597.5 279h0M597.5 277h0M597.5 275h0M598 271.5h0M597.5 267h0M597.5 243.5h0M597 243.5h0M609.5 320h0M609.5 319h0M609.5 316h0M609.5 313.5h0M609.5 309.5h0M609.5 304.5h0M609.5 303.5h0M610 299h0M609.5 294.5h0M609.5 293.5h0M610.5 320h0M610.5 317h0M610.5 314h0M609.5 281h0M610 281.5h0M615.5 322.5h0M615 320h0M615.5 318.5h0M615.5 317.5h0M616 315h0M616 313h0M615.5 311h0M615 309.5h0M616 307h0M615.5 304.5h0M615.5 300.5h0M615 296h0M617.5 322.5h0M617.5 320h0M618 318h0M617 315h0M617.5 313.5h0M618 309.5h0M617 304.5h0M617.5 300.5h0M617 295.5h0M616 282h0M622 324.5h0M622.5 322h0M622.5 320.5h0M622.5 318h0M623 315.5h0M623 310.5h0M622.5 305h0M622 299h0M622.5 289h0M628 326.5h0M627 324h0M627 321.5h0M628 318.5h0M627.5 315.5h0M628 314.5h0M627.5 313.5h0M628 308h0M628 306.5h0M627.5 301h0M628.5 326.5h0M628 324h0M629 322.5h0M628.5 321h0M628 319h0M629 318h0M629 314h0M628 310.5h0M628 308.5h0M628.5 304.5h0M628 288.5h0M627.5 289.5h0M633.5 315h0M634 313.5h0M634 312h0M633 309.5h0M633.5 308.5h0M633 305h0M633.5 301h0M634 296.5h0M633.5 291.5h0M634 289.5h0M634 315h0M634 314h0M633.5 311.5h0M633.5 309.5h0M634 306h0M634 304.5h0M634 303h0M634.5 299h0M633.5 274h0" stroke="#545454" stroke-width="5.4" stroke-linecap="round" fill="none"/>
</g>
<path d="M78.2 262V308" stroke="#fff" stroke-width="1.5" stroke-opacity="0.85"/>
<path d="M78.2 308V415" stroke="#fff" stroke-width="0.8" stroke-opacity="0.4"/>
<path d="M360.3 262V474.5" stroke="#fff" stroke-width="1.2" stroke-opacity="0.85"/>
<path d="M77.9 470.3V474.5" stroke="#fff" stroke-width="1.3" stroke-opacity="0.85"/>
<path d="M101.5 213.5h0M108 212.5h0M112 170.5h0M123.5 220.5h0M135.5 196h0M135.5 204h0M134.5 212.5h0M134.5 215h0M134.5 217.5h0M134.5 220h0M134.5 222.5h0M134.5 225h0M142.5 192h0M142.5 205.5h0M142.5 208.5h0M142.5 211h0M142.5 214h0M142.5 216.5h0M142.5 219.5h0M142.5 222h0M142.5 225h0M203.5 215h0M203.5 217h0M203.5 219h0M186.5 219h0M212.5 164h0M212.5 167h0M212.5 169.5h0M212.5 172.5h0M212.5 175.5h0M212.5 178h0M212.5 181h0M212.5 193.5h0M212.5 203h0M212.5 205.5h0M212.5 208.5h0M212.5 211.5h0M212.5 219h0M212.5 221h0M212.5 223h0M212.5 225h0M212.5 103.5h0M262.5 182.5h0M273 179.5h0M262.5 197.5h0M262.5 200.5h0M262.5 203h0M262.5 205.5h0M262.5 212h0M262.5 222h0M272 196.5h0M277 198.5h0M277 208h0M279.5 211.5h0M286.5 212.5h0M377.5 161h0M341.5 177.5h0M383.5 185h0M391.5 178h0M379.5 201.5h0M380.5 208.5h0M391.5 197h0M391.5 199.5h0M391.5 202.5h0M391.5 205h0M391.5 208h0M391.5 210.5h0M401.5 199h0M401 211.5h0M342 211h0M348.5 221h0M336 224h0M389.5 219.5h0M401 221h0M401 223h0M401 225h0M522.5 215.5h0M484 217.5h0M490.5 222.5h0M497.5 220h0M534 178.5h0M580 182.5h0M587 193.5h0M564 201.5h0M606 196h0M606 199h0M606 201.5h0M606 204h0M523 215.5h0M564 212.5h0M564 214.5h0M564 217h0M564 219.5h0M578 210.5h0M580 223.5h0M606 223.5h0M529 223.5h0M668.5 344.5h0M668.5 413h0M668.5 448h0M124 231h0M124 233h0M124 235h0M124 237h0M142 222h0M142 225h0M142 227.5h0M142 230.5h0M142 233h0M142 236h0M142 239h0M142 241.5h0M142 244.5h0M142 247h0M142 250h0M132.5 222h0M132.5 225h0M132.5 228h0M132.5 231h0M132.5 233.5h0M132.5 236.5h0M109 222h0M109 225h0M109 227.5h0M109 230h0M109 233h0M112 230h0M104 241h0M108 236.5h0M116.5 236.5h0M116.5 246h0M116 246h0M186.5 222h0M186.5 225h0M186.5 228h0M186.5 231h0M186.5 233.5h0M186.5 236.5h0M187.5 239.5h0M187.5 242.5h0M187.5 245h0M187.5 248h0M187.5 251h0M204 224h0M204 226.5h0M204 229h0M204 231.5h0M212.5 222h0M212.5 224h0M212.5 226.5h0M212.5 237.5h0M212.5 240h0M212.5 242.5h0M212.5 245.5h0M212.5 248h0M212.5 250.5h0M212.5 253.5h0M217.5 244h0M217.5 246.5h0M217.5 249.5h0M217.5 252h0M217.5 254.5h0M217.5 257.5h0M217.5 260h0M190.5 252h0M198.5 230h0M198.5 233h0M201.5 240h0M206.5 241h0M198.5 256.5h0M192 260.5h0M262.5 225h0M262.5 228h0M262.5 231h0M262.5 234h0M262.5 237h0M262.5 240h0M262.5 243h0M262.5 246h0M260 247h0M260 250h0M260 253h0M260 255.5h0M260 258.5h0M264 247h0M264 250h0M264 253h0M264 255.5h0M264 258.5h0M272.5 244h0M273 252.5h0M273 257h0M281.5 244h0M322.5 228h0M330.5 235h0M333.5 235h0M335.5 225h0M336.5 237.5h0M345.5 239.5h0M335.5 247.5h0M342 248.5h0M391.5 239.5h0M391.5 242.5h0M391.5 245.5h0M391.5 248.5h0M391.5 251h0M391.5 254h0M391.5 257h0M391.5 260h0M391.5 263h0M391.5 266h0M399 222h0M399 225h0M399 228h0M399 230.5h0M399 233.5h0M399 236.5h0M399 239.5h0M399 242.5h0M399 245.5h0M399 248h0M399 251h0M399 254h0M380.5 231h0M382.5 232h0M392 239.5h0M431.5 238h0M431.5 241h0M431.5 243.5h0M431.5 246h0M431.5 249h0M431.5 252h0M431.5 254.5h0M431.5 257h0M431.5 260h0M447.5 240h0M447.5 242.5h0M447.5 245h0M447.5 248h0M447.5 250.5h0M447.5 253h0M447.5 255.5h0M432.5 233h0M455 228h0M455 236h0M497.5 227h0M497.5 229.5h0M497.5 232.5h0M497.5 235h0M497.5 238h0M497.5 240.5h0M497.5 243h0M497.5 246h0M497.5 248.5h0M497.5 251h0M485 231.5h0M490.5 234.5h0M490 226h0M490 244h0M520.5 226h0M520.5 229h0M520.5 232h0M520.5 234.5h0M520.5 237.5h0M520.5 240.5h0M520.5 243h0M520.5 246h0M520.5 249h0M521.5 226.5h0M522 232h0M521.5 242.5h0M529 224h0M531.5 227h0M563 227h0M563 230h0M563 233h0M563 236h0M563 239h0M563 242h0M563 245h0M563 248h0M563 251h0M553 233h0M579 233h0M579 236h0M579 239h0M579 242h0M579 245h0M579 248h0M579 251h0M579 254h0M579 257h0M579 260h0M579 263h0M579 266h0M588 243h0M588 246h0M588 248.5h0M588 251.5h0M588 254.5h0M588 257h0M588 260h0M588 263h0M588 266h0M580 224h0M585.5 240h0M590 240h0M606 225h0M606 236h0M608.5 248.5h0M604 254.5h0M608.5 279h0M639.5 261.5h0M639.5 279h0M639.5 285.5h0" stroke="#8f8f8f" stroke-width="5.4" stroke-linecap="round" fill="none"/>
<path d="M54 184h0M54 187.5h0M54 197.5h0M54 203h0M75 184h0M75 188h0M75 197h0M75 199.5h0M75 202h0M75 204.5h0M75 207h0M75 210h0M75 212.5h0M70.5 201.5h0M91.5 202h0M91.5 207.5h0M91.5 216.5h0M97.5 218.5h0M149 169.5h0M154.5 177h0M149 181.5h0M161.5 179h0M161.5 192h0M161.5 195.5h0M161.5 200.5h0M149 199h0M149 201.5h0M149 204h0M149 206.5h0M161.5 211.5h0M161.5 213.5h0M161.5 216h0M158 213h0M149 221h0M183.5 195.5h0M183.5 204h0M183.5 206.5h0M183.5 214.5h0M183.5 217h0M183.5 219.5h0M183.5 222h0M173.5 204h0M173.5 207h0M173.5 210h0M173.5 213h0M173.5 216h0M173.5 219h0M173.5 222h0M173.5 225h0M154.5 220h0M157.5 220h0M223 190.5h0M223 193.5h0M223 196h0M223 199h0M223 202h0M223 205h0M223 211.5h0M223 219h0M238 185.5h0M238 188h0M238 190.5h0M238 193h0M238 196h0M238 198.5h0M233.5 205h0M230.5 207h0M230.5 210h0M230.5 213h0M230.5 216h0M230.5 219h0M230.5 222h0M230.5 225h0M235 219.5h0M248 156h0M248 165h0M248 168h0M248 170.5h0M248 176.5h0M248 179h0M248 181.5h0M253 187.5h0M251 186.5h0M238 191h0M238 194h0M238 197h0M238 200h0M238 203h0M248 205.5h0M248 208.5h0M248 211h0M248 214h0M248 216.5h0M248 219.5h0M248 222h0M248 225h0M253 220.5h0M293 180h0M304.5 191h0M304.5 197h0M304.5 199.5h0M304.5 202.5h0M304.5 205.5h0M304.5 208h0M304.5 211h0M304.5 214h0M304.5 216.5h0M304.5 219.5h0M304.5 222h0M304.5 225h0M292.5 210h0M292.5 215h0M292.5 218h0M292.5 220.5h0M311.5 216h0M311.5 219h0M311.5 222h0M311.5 225h0M314 222h0M356 168.5h0M356 178h0M356 180.5h0M356 183.5h0M356 186h0M356 189h0M356 191.5h0M356 194h0M356 197h0M371.5 181.5h0M418.5 189h0M356 202h0M356 204h0M356 206.5h0M357.5 211.5h0M419 203.5h0M421.5 206.5h0M424 208.5h0M426.5 209.5h0M356 218h0M356 220.5h0M356 222.5h0M356 225h0M367 223h0M410.5 218h0M410.5 220h0M410.5 222.5h0M511 194.5h0M511 197.5h0M511 200h0M511 205.5h0M513.5 211.5h0M513.5 214h0M513.5 217h0M513.5 219.5h0M513.5 222.5h0M513.5 225h0M515.5 216h0M461 223.5h0M537 177h0M570.5 185h0M550 189.5h0M547.5 195.5h0M547.5 198h0M547.5 200.5h0M547.5 203h0M547.5 205.5h0M544 201.5h0M548 211h0M592.5 203.5h0M592.5 202h0M569.5 220.5h0M567 220.5h0M574.5 215.5h0M626.5 210h0M636 206.5h0M637 219h0M671.5 352h0M671.5 354.5h0M671.5 357h0M671.5 359.5h0M671.5 362h0M671.5 364.5h0M673.5 367.5h0M671.5 371.5h0M670 377h0M673.5 374.5h0M671.5 382h0M672.5 404.5h0M672.5 439h0M673.5 450h0M670.5 454h0M671.5 459.5h0M671.5 462h0M671.5 464.5h0M72 222h0M72 225h0M72 228h0M72 231h0M72 234h0M72 237h0M72 240h0M72 243h0M72 246h0M72 249h0M72 252h0M72 255h0M72 258h0M75 226h0M75 229h0M75 232h0M75 234.5h0M75 237.5h0M75 240.5h0M75 243.5h0M75 246.5h0M75 249.5h0M75 252h0M75 255h0M75 258h0M83.5 234h0M83.5 237h0M83.5 239.5h0M83.5 242h0M83.5 245h0M83.5 248h0M83.5 250.5h0M83.5 253h0M83.5 256h0M56 228h0M58 231h0M54 237.5h0M54 244.5h0M56.5 247h0M54 253h0M63.5 243h0M64.5 250.5h0M64.5 253.5h0M68.5 226.5h0M66 236h0M76.5 233.5h0M87.5 225h0M91 226.5h0M97 233h0M97.5 236.5h0M91 245.5h0M97 249h0M91 253.5h0M88 236.5h0M149.5 222h0M149.5 225h0M149.5 228h0M149.5 230.5h0M149.5 233.5h0M149.5 236.5h0M149.5 239.5h0M149.5 242h0M149.5 245h0M149.5 248h0M183 228h0M183 230.5h0M183 233.5h0M183 236.5h0M154 223.5h0M154.5 236.5h0M159.5 241h0M157 238.5h0M167 235h0M181 223.5h0M180 249h0M223 225h0M223 228h0M223 231h0M223 234h0M223 237h0M223 240h0M227.5 222h0M227.5 225h0M227.5 228h0M227.5 231h0M227.5 234h0M227.5 237h0M227.5 240h0M248 228h0M248 231h0M248 234h0M248 237h0M248 240h0M248 243h0M248 246h0M233.5 226.5h0M235 233.5h0M235.5 226.5h0M252.5 252.5h0M248 255h0M304.5 228h0M304.5 230.5h0M304.5 233.5h0M304.5 236.5h0M304.5 239h0M304.5 242h0M304.5 245h0M311.5 227.5h0M311.5 230.5h0M311.5 233.5h0M311.5 236.5h0M311.5 239h0M311.5 242h0M293 228h0M293 233.5h0M299 236.5h0M350.5 229h0M350.5 232h0M350.5 234.5h0M350.5 237.5h0M350.5 240h0M350.5 243h0M350.5 246h0M350.5 248.5h0M350.5 251.5h0M350.5 254h0M350.5 257h0M355.5 236.5h0M355.5 239.5h0M355.5 242.5h0M355.5 245.5h0M355.5 248.5h0M355.5 251h0M376.5 235h0M376.5 238h0M376.5 240.5h0M376.5 243h0M376.5 246h0M376.5 249h0M376.5 251.5h0M376.5 254h0M376.5 257h0M355.5 225h0M365 229.5h0M366.5 232h0M365 241h0M371.5 242.5h0M367 251h0M371.5 251h0M410 222h0M410 225h0M410 228h0M410 231h0M410 233.5h0M410 236.5h0M410 239.5h0M410 242.5h0M410 245.5h0M410 248h0M410 251h0M410 254h0M410 257h0M417 235h0M417 237.5h0M417 240.5h0M417 243h0M417 246h0M417 248.5h0M417 251.5h0M417 254h0M423 225h0M423 228h0M423 231h0M423 233.5h0M404.5 231.5h0M417.5 226.5h0M460.5 244h0M460.5 246.5h0M460.5 249h0M460.5 252h0M460.5 254.5h0M460.5 257h0M461 224h0M461 227h0M461 230h0M470 242.5h0M476.5 248.5h0M513.5 222h0M513.5 228h0M513.5 231h0M503.5 247h0M503.5 250h0M503.5 253h0M503.5 255.5h0M503.5 258.5h0M503.5 261.5h0M503.5 264h0M503.5 267h0M503.5 270h0M505 231h0M505 234h0M505 236.5h0M505 239.5h0M505 242h0M505 245h0M504.5 227.5h0M505.5 235h0M537.5 224h0M537.5 227h0M537.5 230h0M537.5 233h0M537.5 236h0M537.5 239h0M537.5 242h0M537.5 245h0M537.5 248h0M537.5 251h0M537.5 254h0M537.5 257h0M541 235h0M541.5 250h0M568.5 251h0M568.5 253.5h0M568.5 256.5h0M568.5 259h0M568.5 262h0M568.5 264.5h0M568.5 267.5h0M568.5 270h0M596 248h0M596 251h0M596 253.5h0M596 256.5h0M596 259h0M596 262h0M596 264.5h0M596 267.5h0M596 270h0M596 273h0M622.5 248.5h0M613.5 253.5h0M619.5 258.5h0M614.5 267h0M611 272.5h0M614 273.5h0M619.5 271.5h0M619.5 275.5h0M626.5 279.5h0M636.5 272h0M636.5 275h0M636.5 278h0M636.5 280.5h0M636.5 283.5h0M636.5 286.5h0" stroke="#545454" stroke-width="5.4" stroke-linecap="round" fill="none"/>
<path d="M47.1 28V481.0H680" fill="none" stroke="#cccccc" stroke-width="1.8"/>
<path d="M43.1 471.2h3.2" stroke="#333333" stroke-width="1.1"/>
<text x="41.0" y="477.1" font-size="16.2" fill="#4d4d4d" text-anchor="end">0</text>
<path d="M43.1 352.6h3.2" stroke="#333333" stroke-width="1.1"/>
<text x="41.0" y="358.5" font-size="16.2" fill="#4d4d4d" text-anchor="end">2</text>
<path d="M43.1 234.1h3.2" stroke="#333333" stroke-width="1.1"/>
<text x="41.0" y="240.0" font-size="16.2" fill="#4d4d4d" text-anchor="end">4</text>
<path d="M43.1 115.5h3.2" stroke="#333333" stroke-width="1.1"/>
<text x="41.0" y="121.4" font-size="16.2" fill="#4d4d4d" text-anchor="end">6</text>
<path d="M77.3 481.9v3.4" stroke="#333333" stroke-width="1.1"/>
<text x="77.3" y="499.2" font-size="16.2" fill="#4d4d4d" text-anchor="middle">1</text>
<path d="M124.5 481.9v3.4" stroke="#333333" stroke-width="1.1"/>
<text x="124.5" y="499.2" font-size="16.2" fill="#4d4d4d" text-anchor="middle">2</text>
<path d="M167.4 481.9v3.4" stroke="#333333" stroke-width="1.1"/>
<text x="167.4" y="499.2" font-size="16.2" fill="#4d4d4d" text-anchor="middle">3</text>
<path d="M205.0 481.9v3.4" stroke="#333333" stroke-width="1.1"/>
<text x="205.0" y="499.2" font-size="16.2" fill="#4d4d4d" text-anchor="middle">4</text>
<path d="M240.4 481.9v3.4" stroke="#333333" stroke-width="1.1"/>
<text x="240.4" y="499.2" font-size="16.2" fill="#4d4d4d" text-anchor="middle">5</text>
<path d="M274.7 481.9v3.4" stroke="#333333" stroke-width="1.1"/>
<text x="274.7" y="499.2" font-size="16.2" fill="#4d4d4d" text-anchor="middle">6</text>
<path d="M306.4 481.9v3.4" stroke="#333333" stroke-width="1.1"/>
<text x="306.4" y="499.2" font-size="16.2" fill="#4d4d4d" text-anchor="middle">7</text>
<path d="M336.3 481.9v3.4" stroke="#333333" stroke-width="1.1"/>
<text x="336.3" y="499.2" font-size="16.2" fill="#4d4d4d" text-anchor="middle">8</text>
<path d="M363.7 481.9v3.4" stroke="#333333" stroke-width="1.1"/>
<text x="363.7" y="499.2" font-size="16.2" fill="#4d4d4d" text-anchor="middle">9</text>
<path d="M390.3 481.9v3.4" stroke="#333333" stroke-width="1.1"/>
<text x="390.3" y="499.2" font-size="16.2" fill="#4d4d4d" text-anchor="middle">10</text>
<path d="M416.5 481.9v3.4" stroke="#333333" stroke-width="1.1"/>
<text x="416.5" y="499.2" font-size="16.2" fill="#4d4d4d" text-anchor="middle">11</text>
<path d="M442.6 481.9v3.4" stroke="#333333" stroke-width="1.1"/>
<text x="442.6" y="499.2" font-size="16.2" fill="#4d4d4d" text-anchor="middle">12</text>
<path d="M466.7 481.9v3.4" stroke="#333333" stroke-width="1.1"/>
<text x="466.7" y="499.2" font-size="16.2" fill="#4d4d4d" text-anchor="middle">13</text>
<path d="M487.9 481.9v3.4" stroke="#333333" stroke-width="1.1"/>
<text x="487.9" y="499.2" font-size="16.2" fill="#4d4d4d" text-anchor="middle">14</text>
<path d="M508.5 481.9v3.4" stroke="#333333" stroke-width="1.1"/>
<text x="508.5" y="499.2" font-size="16.2" fill="#4d4d4d" text-anchor="middle">15</text>
<path d="M526.8 481.9v3.4" stroke="#333333" stroke-width="1.1"/>
<text x="526.8" y="499.2" font-size="16.2" fill="#4d4d4d" text-anchor="middle">16</text>
<path d="M543.6 481.9v3.4" stroke="#333333" stroke-width="1.1"/>
<path d="M558.6 481.9v3.4" stroke="#333333" stroke-width="1.1"/>
<text x="558.6" y="499.2" font-size="16.2" fill="#4d4d4d" text-anchor="middle">18</text>
<path d="M572.0 481.9v3.4" stroke="#333333" stroke-width="1.1"/>
<path d="M583.6 481.9v3.4" stroke="#333333" stroke-width="1.1"/>
<text x="583.6" y="499.2" font-size="16.2" fill="#4d4d4d" text-anchor="middle">20</text>
<path d="M594.9 481.9v3.4" stroke="#333333" stroke-width="1.1"/>
<path d="M604.0 481.9v3.4" stroke="#333333" stroke-width="1.1"/>
<text x="604.0" y="499.2" font-size="16.2" fill="#4d4d4d" text-anchor="middle">22</text>
<path d="M624.1 481.9v3.4" stroke="#333333" stroke-width="1.1"/>
<text x="624.1" y="499.2" font-size="16.2" fill="#4d4d4d" text-anchor="middle">X</text>
<path d="M654.0 481.9v3.4" stroke="#333333" stroke-width="1.1"/>
<text x="654.0" y="499.2" font-size="16.2" fill="#4d4d4d" text-anchor="middle">XY</text>
<path d="M671.5 481.9v3.4" stroke="#333333" stroke-width="1.1"/>
<text x="671.5" y="499.2" font-size="16.2" fill="#4d4d4d" text-anchor="middle">Y</text>
<text x="363.2" y="519.4" font-size="19.5" fill="#000" text-anchor="middle" textLength="119" lengthAdjust="spacingAndGlyphs">Chromosome</text>
<g transform="translate(17.5,296.8) rotate(-90)" fill="#000"><text font-size="20"><tspan x="-0.8" y="0.8">&#8722;</tspan><tspan x="12" y="0">log</tspan><tspan x="38.5" y="4.6" font-size="14">10</tspan><tspan x="64.2" y="0" font-style="italic" font-size="21">p</tspan></text></g>
<path transform="translate(0,0.0)" d="M0.9 216.6Q9 203.2 23.6 219.8Q9 209.2 0.9 216.6Z M0.9 232.2Q14 248.6 23.6 236.4Q14 242.6 0.9 232.2Z" fill="#000"/>
<path d="M47.7 38.5H678" stroke="#d08a26" stroke-width="2" stroke-dasharray="9.1 9.156"/>
<path d="M47.7 174.8H678" stroke="#3f7fd6" stroke-width="2" stroke-dasharray="9.1 9.156"/>
<path d="M112 166.5h0M212.5 170.5h0M212.5 91.5h0M377.5 149h0M561 165.5h0M587.5 166.5h0" stroke="#6fb7fb" stroke-width="5.4" stroke-linecap="round" fill="none"/>
<path d="M149 165.5h0M170.5 171h0M233.5 169.5h0M356 164.5h0M403.5 119.5h0" stroke="#4292f6" stroke-width="5.4" stroke-linecap="round" fill="none"/>
<text y="33.7" font-size="11.5" fill="#d08a26"><tspan x="648.44">5</tspan><tspan x="656.05" dy="0.8" font-size="13.2">×</tspan><tspan x="664.5 670.85" dy="-0.8">10</tspan></text>
<text x="678.2" y="31.6" font-size="6.5" fill="#d08a26">-8</text>
<text y="169.6" font-size="11.5" fill="#3f7fd6"><tspan x="648.4">1</tspan><tspan x="654.65" dy="0.8" font-size="13.2">×</tspan><tspan x="663.0 669.95" dy="-0.8">10</tspan></text>
<text x="677.1" y="167.8" font-size="6.5" fill="#3f7fd6">-5</text>
<text x="46.6" y="578.9" font-size="20" fill="#000" textLength="440" lengthAdjust="spacingAndGlyphs">Findings on SNP main effects in the CP group</text>
<g transform="matrix(1.00208,0,0,1,-1.06,0)">
<rect x="99.10" y="904.6" width="46.70" height="133.5" rx="2.5" fill="#8f8f8f"/>
<rect x="184.00" y="904.6" width="37.00" height="133.5" rx="2.5" fill="#8f8f8f"/>
<rect x="256.20" y="904.6" width="32.70" height="133.5" rx="2.5" fill="#8f8f8f"/>
<rect x="319.50" y="904.6" width="28.70" height="133.5" rx="2.5" fill="#8f8f8f"/>
<rect x="379.30" y="904.6" width="21.90" height="133.5" rx="2.5" fill="#8f8f8f"/>
<rect x="427.40" y="904.6" width="29.50" height="133.5" rx="2.5" fill="#8f8f8f"/>
<rect x="478.80" y="904.6" width="21.40" height="133.5" rx="2.5" fill="#8f8f8f"/>
<rect x="516.00" y="904.6" width="17.10" height="133.5" rx="2.5" fill="#8f8f8f"/>
<rect x="549.10" y="904.6" width="15.40" height="133.5" rx="2.5" fill="#8f8f8f"/>
<rect x="575.40" y="904.6" width="14.60" height="133.5" rx="2.5" fill="#8f8f8f"/>
<rect x="600.40" y="904.6" width="6.40" height="133.5" rx="2.5" fill="#8f8f8f"/>
<rect x="50.65" y="904.6" width="48.80" height="133.5" rx="2.5" fill="#545454"/>
<rect x="145.45" y="904.6" width="38.90" height="133.5" rx="2.5" fill="#545454"/>
<rect x="220.65" y="904.6" width="35.90" height="133.5" rx="2.5" fill="#545454"/>
<rect x="288.55" y="904.6" width="31.30" height="133.5" rx="2.5" fill="#545454"/>
<rect x="347.85" y="904.6" width="31.80" height="133.5" rx="2.5" fill="#545454"/>
<rect x="400.85" y="904.6" width="26.90" height="133.5" rx="2.5" fill="#545454"/>
<rect x="456.55" y="904.6" width="22.60" height="133.5" rx="2.5" fill="#545454"/>
<rect x="499.85" y="904.6" width="16.50" height="133.5" rx="2.5" fill="#545454"/>
<rect x="532.75" y="904.6" width="16.70" height="133.5" rx="2.5" fill="#545454"/>
<rect x="564.15" y="904.6" width="11.60" height="133.5" rx="2.5" fill="#545454"/>
<rect x="589.65" y="904.6" width="11.10" height="133.5" rx="2.5" fill="#545454"/>
<rect x="606.45" y="904.6" width="30.60" height="133.5" rx="2.5" fill="#545454"/>
<rect x="636.7" y="904.6" width="5.3" height="133.5" rx="2.5" fill="#8f8f8f"/>
<path d="M98.75 849.2H108.35V906.6H98.75ZM107.65 853.6H116.35V906.6H107.65ZM115.65 831.7H124.35V906.6H115.65ZM123.65 855.0H130.35V906.6H123.65ZM129.65 855.0H137.35V906.6H129.65ZM136.65 847.7H146.15V906.6H136.65ZM183.65 843.4H190.35V906.6H183.65ZM189.65 839.0H200.35V906.6H189.65ZM199.65 836.1H210.35V906.6H199.65ZM209.65 846.3H216.35V906.6H209.65ZM215.65 849.2H221.35V906.6H215.65ZM255.85 825.8H270.35V906.6H255.85ZM269.65 855.0H278.35V906.6H269.65ZM277.65 820.0H287.95V906.6H277.65ZM287.25 849.0H289.25V906.6H287.25ZM319.15 855.0H330.35V906.6H319.15ZM329.65 863.8H336.35V906.6H329.65ZM335.65 840.4H342.35V906.6H335.65ZM341.65 858.0H348.55V906.6H341.65ZM378.95 852.0H386.35V906.6H378.95ZM385.65 828.8H401.55V906.6H385.65ZM427.05 858.0H434.35V906.6H427.05ZM433.65 852.0H439.35V906.6H433.65ZM438.65 839.0H452.35V906.6H438.65ZM451.65 852.0H457.25V906.6H451.65ZM478.45 849.2H485.35V906.6H478.45ZM484.65 844.8H500.55V906.6H484.65ZM515.65 847.0H525.35V906.6H515.65ZM524.65 852.0H533.45V906.6H524.65ZM548.75 861.0H553.35V906.6H548.75ZM552.65 834.6H558.35V906.6H552.65ZM557.65 861.0H564.85V906.6H557.65ZM575.05 854.0H590.35V906.6H575.05ZM600.05 850.0H607.15V906.6H600.05ZM636.35 856.0H642.35V906.6H636.35Z" fill="#8f8f8f"/>
<path d="M50.65 820.0H57.35V906.6H50.65ZM56.65 839.0H62.35V906.6H56.65ZM61.65 846.3H66.35V906.6H61.65ZM65.65 850.7H72.35V906.6H65.65ZM71.65 860.9H78.35V906.6H71.65ZM77.65 843.0H84.35V906.6H77.65ZM83.65 863.8H99.45V906.6H83.65ZM145.45 820.0H154.95V906.6H145.45ZM154.25 868.0H157.15V906.6H154.25ZM156.45 826.0H162.95V906.6H156.45ZM162.25 871.0H166.65V906.6H162.25ZM165.95 846.3H184.35V906.6H165.95ZM220.65 860.9H226.35V906.6H220.65ZM225.65 827.3H232.35V906.6H225.65ZM231.65 844.8H245.35V906.6H231.65ZM244.65 856.5H256.55V906.6H244.65ZM288.55 853.6H296.35V906.6H288.55ZM295.65 840.4H305.35V906.6H295.65ZM304.65 858.0H312.35V906.6H304.65ZM311.65 866.7H319.85V906.6H311.65ZM347.85 868.2H358.05V906.6H347.85ZM357.35 868.2H361.75V906.6H357.35ZM361.05 863.8H366.35V906.6H361.05ZM365.65 844.8H379.65V906.6H365.65ZM400.85 863.8H410.35V906.6H400.85ZM409.65 852.0H427.75V906.6H409.65ZM456.55 850.7H468.35V906.6H456.55ZM467.65 853.6H479.15V906.6H467.65ZM499.85 850.7H505.35V906.6H499.85ZM504.65 820.0H512.35V906.6H504.65ZM511.65 849.2H516.35V906.6H511.65ZM532.75 866.0H540.35V906.6H532.75ZM539.65 856.0H549.45V906.6H539.65ZM564.15 858.0H570.35V906.6H564.15ZM569.65 846.0H575.75V906.6H569.65ZM589.65 856.0H600.75V906.6H589.65ZM606.45 872.0H616.35V906.6H606.45ZM615.65 872.0H626.35V906.6H615.65ZM625.65 861.0H637.05V906.6H625.65Z" fill="#545454"/>
<path d="M102 851h0M102 850h0M101.5 848h0M101.5 847h0M101.5 845h0M101 842.5h0M102 841h0M101.5 838.5h0M105 851h0M105.5 848.5h0M105.5 846h0M105.5 842.5h0M105.5 839h0M105.5 835.5h0M105 833h0M105.5 829h0M105.5 824h0M102.5 814.5h0M104.5 813h0M110 855.5h0M110.5 854.5h0M111 852.5h0M110.5 850.5h0M110.5 849h0M110.5 845.5h0M110 843.5h0M111 839h0M110.5 833.5h0M111 829h0M113 855.5h0M113 852.5h0M113 850.5h0M113.5 847.5h0M113.5 843h0M113.5 814.5h0M111.5 809.5h0M118.5 833.5h0M118.5 832.5h0M119 831h0M118.5 828h0M118.5 827h0M118.5 825.5h0M118.5 821.5h0M119 818.5h0M118.5 815.5h0M119 809h0M121.5 833.5h0M121.5 831.5h0M121 829h0M121.5 827h0M121.5 824h0M121.5 820.5h0M121.5 819h0M121.5 816.5h0M121 811h0M120 798h0M119.5 792.5h0M126.5 857h0M126 854.5h0M127 853h0M127 851.5h0M127 850h0M126.5 848.5h0M126 846h0M126.5 842h0M126.5 837.5h0M126.5 833h0M127 830h0M128 857h0M127.5 855h0M127.5 852.5h0M127 851h0M127 849h0M127 844.5h0M127.5 842h0M127 817h0M127 819.5h0M132.5 857h0M132.5 854.5h0M132.5 853h0M132.5 852h0M133 849.5h0M133 847.5h0M133 846h0M132 842h0M132.5 837h0M132 834h0M132 827h0M134.5 857h0M134 855.5h0M134.5 852.5h0M135 851h0M134 847.5h0M134.5 846.5h0M134.5 845h0M134.5 842h0M134.5 838h0M134.5 832h0M133 819h0M134 821h0M139.5 849.5h0M140 847.5h0M139.5 846h0M140 843h0M139.5 839.5h0M140 835h0M139 829h0M140 825.5h0M142.5 849.5h0M143 847.5h0M142.5 845h0M142.5 843h0M143 841h0M143 837h0M142.5 834.5h0M143 831.5h0M142.5 828h0M143 822h0M143.5 849.5h0M143.5 848h0M143.5 845h0M143 842.5h0M143.5 841h0M143 838.5h0M142.5 837.5h0M143.5 834.5h0M143.5 830h0M143 825h0M143.5 822.5h0M141.5 807.5h0M140 808.5h0M186 845.5h0M186.5 843h0M187 841h0M186.5 838.5h0M186.5 836.5h0M186.5 832h0M186.5 830h0M187 826h0M187 823h0M187 822h0M187 845.5h0M188 843h0M187 840.5h0M188 837h0M187.5 836h0M187 834.5h0M187.5 830.5h0M187 802.5h0M187 808h0M193 841h0M193 839.5h0M192 837h0M192.5 834h0M192 832.5h0M192 829h0M192 824h0M193 818.5h0M197.5 841h0M197 838.5h0M197.5 836h0M197.5 833.5h0M197.5 829.5h0M197 825h0M197.5 822h0M197.5 817.5h0M197.5 815h0M193.5 805h0M197.5 799h0M203 838h0M202.5 836h0M203 834h0M203 831h0M202.5 829h0M203 825h0M203 819.5h0M202.5 818h0M202.5 814.5h0M207 838h0M206.5 837h0M207 835h0M206.5 833h0M208 836h0M207.5 833.5h0M207.5 832h0M207.5 829h0M207 826.5h0M207 821.5h0M207.5 816.5h0M207 810.5h0M207.5 808.5h0M206 799h0M212.5 848.5h0M213 845.5h0M213 844.5h0M213 841.5h0M213 840.5h0M212.5 836.5h0M213 831.5h0M213 827h0M212.5 825h0M214 848.5h0M213.5 846h0M214 843.5h0M213.5 841.5h0M213.5 839h0M213 836.5h0M213 835.5h0M213 833h0M213.5 829.5h0M213.5 823.5h0M213 798.5h0M213 812.5h0M219 851h0M219 849.5h0M218 848h0M218.5 845.5h0M219 843.5h0M218.5 839.5h0M219 834.5h0M218.5 832.5h0M218.5 827h0M218.5 823.5h0M218.5 801h0M258.5 828h0M258.5 826.5h0M259 824.5h0M258.5 823h0M258.5 820h0M259 817h0M259 814.5h0M259 810.5h0M259 805h0M258.5 799h0M262.5 828h0M263 825.5h0M262.5 822.5h0M262 820h0M262.5 817h0M263 812.5h0M262 809.5h0M265.5 828h0M266.5 826.5h0M265.5 824.5h0M266 821.5h0M266 818h0M266 816h0M266 814.5h0M266 811h0M265.5 809.5h0M265.5 806.5h0M266.5 802.5h0M267.5 828h0M267 826.5h0M267 824h0M267 822.5h0M267 821h0M267 817.5h0M267 814h0M267 809.5h0M267.5 806.5h0M267.5 805.5h0M267.5 802h0M266 792h0M272.5 857h0M272.5 856h0M272 854.5h0M272.5 852h0M272.5 849.5h0M272 845.5h0M273 844.5h0M272.5 843.5h0M273 839.5h0M272.5 838.5h0M272.5 835.5h0M273 834.5h0M272.5 827h0M275.5 857h0M275.5 854.5h0M275.5 853h0M275.5 850h0M276 848h0M275 845h0M275 840.5h0M276 838h0M276 837h0M274.5 815h0M273 803.5h0M280.5 822h0M280 821h0M280 818.5h0M280.5 817h0M281 816h0M280 812h0M280.5 808h0M280 803.5h0M281 798h0M280.5 795.5h0M281 791.5h0M284 822h0M284 819.5h0M283.5 816.5h0M283 813.5h0M283.5 811.5h0M283.5 810h0M283.5 807.5h0M283.5 801.5h0M284 797h0M284 795h0M285 822h0M284.5 820h0M285 818h0M285.5 814.5h0M285.5 812.5h0M285.5 808.5h0M285 804h0M288.5 851h0M288 849h0M288 847.5h0M288.5 844.5h0M288 842.5h0M288 839.5h0M288 836.5h0M288.5 834h0M288 831.5h0M288.5 827h0M288 825h0M322 857h0M322 854.5h0M322 852.5h0M322 850h0M322 847h0M322 842.5h0M322.5 839.5h0M321.5 838h0M322.5 836h0M325 857h0M325.5 855.5h0M325.5 854.5h0M326 851h0M326 849h0M326 846h0M325.5 844h0M326 839.5h0M325 834.5h0M327 857h0M327.5 856h0M327.5 854.5h0M327.5 853.5h0M327 851h0M328 847h0M327.5 843.5h0M327 839h0M327 836.5h0M327.5 835.5h0M327.5 830.5h0M323.5 820h0M323.5 821h0M324.5 807h0M333 866h0M333 864h0M332.5 863h0M333 860h0M333 858h0M333 854.5h0M333 852.5h0M333 848h0M333.5 866h0M333.5 864.5h0M333.5 863h0M334 861.5h0M333.5 859.5h0M333.5 856h0M333.5 850h0M332.5 825h0M333 822.5h0M339 842.5h0M339 840h0M338.5 838h0M339 836h0M338 833.5h0M338 832h0M338.5 830.5h0M338.5 828h0M338.5 826h0M338.5 822.5h0M338.5 820h0M340 840.5h0M339.5 838h0M339.5 835h0M339.5 831h0M339 830h0M339.5 825.5h0M339 819.5h0M339.5 812h0M339 793h0M338.5 802.5h0M344.5 860h0M344 859h0M344 857h0M344.5 855h0M344.5 854h0M344.5 852.5h0M344.5 849.5h0M345 848.5h0M344.5 843h0M344.5 838.5h0M344.5 836h0M344.5 833h0M345.5 860h0M346 857h0M346 855.5h0M346 853.5h0M346 851.5h0M346 849h0M345.5 847.5h0M346 844.5h0M345 839.5h0M345.5 835.5h0M345 834h0M345.5 832.5h0M345.5 806h0M345 813.5h0M381.5 854h0M381.5 853h0M381.5 850h0M381.5 848h0M381.5 844.5h0M382 841.5h0M381.5 838.5h0M381.5 833h0M382 826h0M383.5 854h0M383.5 851.5h0M383.5 849.5h0M383 846.5h0M383 843.5h0M384 842h0M383.5 839.5h0M382 808.5h0M382.5 812.5h0M388.5 831h0M389 828.5h0M388.5 826h0M388.5 823h0M388.5 821.5h0M389 817h0M393 831h0M393 829h0M392.5 827h0M392.5 823.5h0M393 822.5h0M392.5 821h0M392.5 818.5h0M392.5 815.5h0M393 811.5h0M392.5 806.5h0M392.5 804h0M396.5 831h0M396.5 830h0M396.5 828.5h0M396.5 825.5h0M395.5 823h0M396 821h0M396.5 817.5h0M395.5 812.5h0M396.5 811h0M396 808.5h0M396 804h0M398.5 831h0M398.5 829h0M398 827.5h0M398 825h0M399 823.5h0M398.5 819.5h0M399 815.5h0M392 792.5h0M391 793.5h0M429.5 860h0M429.5 859h0M429.5 857.5h0M430.5 855h0M430 852.5h0M429.5 850.5h0M430.5 846.5h0M430 844.5h0M430 840.5h0M430 838.5h0M430 834.5h0M431.5 860h0M431 857h0M431.5 856h0M431.5 853h0M431 851h0M431 847.5h0M432 844.5h0M431.5 841h0M431 837.5h0M431.5 832.5h0M431 830.5h0M431 823.5h0M430.5 823.5h0M437 854h0M436.5 852.5h0M436.5 850.5h0M436 849h0M436.5 846h0M437 845h0M436.5 843.5h0M436.5 840.5h0M436 835.5h0M436 831h0M436.5 829h0M436.5 818h0M441 841h0M442 838.5h0M442 836.5h0M442 835.5h0M442 832.5h0M442 829h0M444.5 841h0M445 839.5h0M445 837.5h0M444.5 835.5h0M445 832h0M445 829h0M445 824h0M445 820h0M445 818h0M444.5 812.5h0M448.5 841h0M449 840h0M449.5 837.5h0M449 834.5h0M448.5 831h0M449 829h0M448.5 825h0M449.5 823.5h0M449 822.5h0M449.5 819h0M449.5 841h0M449 838.5h0M450 837.5h0M449.5 835.5h0M449 833h0M449 831.5h0M449.5 827h0M449.5 824.5h0M449.5 818h0M449.5 815h0M442 799.5h0M442.5 800h0M447.5 805.5h0M454 854h0M455 852h0M454 850.5h0M455 848.5h0M454.5 845.5h0M454.5 842.5h0M454 837.5h0M454.5 835.5h0M454.5 829.5h0M454.5 819h0M481 851h0M481 850h0M481.5 848.5h0M481.5 846h0M481.5 843.5h0M482 839.5h0M481.5 836h0M481 834.5h0M482 832.5h0M481 827h0M481.5 823.5h0M482 851h0M482.5 849h0M482.5 846h0M482.5 843h0M482 805h0M482 811.5h0M487.5 847h0M487.5 845h0M487 844h0M487 842.5h0M488 840.5h0M488 838.5h0M488 835h0M488 831h0M487 826h0M488 825h0M488 822h0M492 847h0M492 845h0M491.5 842.5h0M496 847h0M496.5 844h0M496.5 841.5h0M496 839h0M496 836.5h0M496 834.5h0M495.5 831.5h0M495.5 827.5h0M495.5 823h0M496 821h0M498 847h0M497.5 844h0M497.5 842h0M487.5 796.5h0M495 802.5h0M497 794h0M491.5 808h0M519 849h0M518.5 846.5h0M518 843.5h0M518.5 841.5h0M519 839.5h0M519 838.5h0M519 834.5h0M519 831.5h0M522 849h0M522 847.5h0M521.5 846h0M521.5 843.5h0M521.5 840h0M521.5 835.5h0M522 831.5h0M521.5 826.5h0M521.5 824h0M522.5 849h0M523 846h0M522.5 845h0M522 843h0M522 841.5h0M522 838.5h0M522 836h0M522.5 834h0M523 831.5h0M519.5 814h0M520 808h0M528 854h0M528 852.5h0M527.5 851h0M528 849h0M527.5 846.5h0M527 845h0M528 843h0M527.5 838h0M527.5 836.5h0M527 830.5h0M530.5 854h0M531 852.5h0M530.5 849.5h0M530.5 846h0M531 843.5h0M530 842.5h0M530.5 838h0M530.5 833.5h0M530.5 827h0M530.5 824.5h0M530 813.5h0M528.5 807h0M551.5 863h0M551 861h0M551 859h0M551 857.5h0M551 854h0M551 851.5h0M551.5 849.5h0M550.5 845h0M551 841h0M551.5 827h0M555.5 836.5h0M555.5 835.5h0M555.5 833.5h0M556 832.5h0M555.5 830h0M556 828.5h0M555.5 827.5h0M555.5 825.5h0M555 820.5h0M555 818.5h0M555 815h0M555.5 814h0M555.5 800h0M560.5 863h0M560 861h0M561 859h0M560 855.5h0M560.5 853h0M560.5 850h0M560.5 846.5h0M560 841.5h0M561 840.5h0M560.5 837.5h0M560.5 832.5h0M562.5 863h0M561.5 861.5h0M562 860h0M562 857.5h0M561.5 855h0M562 852h0M562 848.5h0M561.5 843h0M561 821h0M561 824.5h0M577.5 856h0M578.5 854h0M578 851.5h0M577.5 849.5h0M578.5 846h0M578 844.5h0M577.5 842h0M578.5 838h0M578.5 834.5h0M577.5 829.5h0M582 856h0M581.5 854h0M582 852.5h0M581.5 849.5h0M582 847h0M582 845.5h0M582.5 841h0M582 837.5h0M581.5 836.5h0M581.5 833h0M582 829h0M586.5 856h0M586 853.5h0M586 851.5h0M586.5 850h0M587 847.5h0M586 845h0M586 841.5h0M586 838h0M586 834h0M587 856h0M587.5 854h0M587 852h0M587 849h0M587.5 843h0M587 841.5h0M587.5 839h0M587 838h0M587 833h0M582.5 806.5h0M583.5 811.5h0M587 804h0M585 814h0M603 852h0M603 849.5h0M603.5 847h0M603 845h0M603 841h0M603 839h0M603 837.5h0M602.5 832.5h0M604.5 852h0M604 850h0M604.5 848.5h0M604.5 845.5h0M604 844.5h0M604 841h0M604.5 836.5h0M604.5 834h0M604.5 832.5h0M603.5 805h0M603 796h0M639 858h0M639 856.5h0M639.5 853.5h0M639 851.5h0M639 849h0M639.5 846h0M639 840.5h0M639 838h0M639.5 831.5h0M639 827.5h0M639.5 858h0M639.5 856h0M639 855h0M640 852.5h0M639.5 849.5h0M639.5 847h0M639.5 844h0M639 838.5h0M639.5 834.5h0M639.5 806.5h0" stroke="#8f8f8f" stroke-width="5.4" stroke-linecap="round" fill="none"/>
<path d="M53 822h0M53 821h0M53.5 818.5h0M54 817.5h0M54 815h0M53.5 813h0M53.5 810h0M54 806.5h0M53.5 802.5h0M54.5 822h0M54 820h0M54.5 818.5h0M54.5 815.5h0M54.5 814h0M54.5 813h0M54.5 811.5h0M54.5 807.5h0M54.5 804.5h0M54 801h0M54 795h0M59.5 841h0M59.5 840h0M59 837.5h0M60 836.5h0M60 834.5h0M59.5 832.5h0M59 830h0M59.5 826.5h0M59.5 822.5h0M59 818.5h0M60 816.5h0M59.5 802.5h0M63.5 848.5h0M64.5 846.5h0M64 844h0M64 841h0M64 839h0M64 837h0M64.5 798.5h0M69 852.5h0M68.5 851h0M68 849.5h0M69 846h0M68.5 843h0M68.5 840.5h0M69 839.5h0M68 836.5h0M68.5 830.5h0M68.5 829.5h0M69.5 851h0M69 848.5h0M69 844.5h0M69.5 843h0M70 841h0M69.5 836.5h0M69.5 830.5h0M69.5 825h0M69 813h0M69 817h0M75 863h0M74.5 860h0M74.5 858h0M74 856h0M74.5 852.5h0M74.5 850.5h0M75 860.5h0M75.5 859.5h0M75.5 857.5h0M76 856h0M75.5 854.5h0M75 853h0M75.5 849h0M75 843.5h0M76 837h0M75 808h0M75 818h0M81 845h0M80 843.5h0M81 842h0M80.5 840h0M80.5 837.5h0M80.5 833.5h0M81 830h0M80.5 829h0M81 824.5h0M80.5 820.5h0M81 843h0M81.5 840h0M81.5 838.5h0M81 835h0M81.5 833.5h0M82 830h0M81.5 828h0M81.5 796h0M80.5 791.5h0M86.5 866h0M86 863h0M87 860h0M87 858.5h0M86 857h0M86 853.5h0M86.5 849.5h0M86.5 845h0M86 840.5h0M90 866h0M89.5 863.5h0M90 861h0M90 857.5h0M90.5 856.5h0M90.5 853h0M90 851.5h0M89.5 847h0M92.5 866h0M93 864h0M93 861h0M93.5 858h0M92.5 855.5h0M93 850.5h0M93.5 846h0M92.5 844h0M95.5 866h0M96 864h0M96.5 862h0M95.5 860h0M96 856.5h0M95.5 854.5h0M95.5 852.5h0M96 851h0M95.5 849.5h0M95.5 844.5h0M96.5 866h0M96.5 864.5h0M96.5 862.5h0M97 860.5h0M96.5 859.5h0M96.5 858h0M96 854h0M97 853h0M96.5 852h0M96.5 850h0M96 845h0M96.5 838h0M96 836h0M95 818.5h0M95 829h0M87 823h0M89.5 824.5h0M148 822h0M148 821h0M148.5 819h0M148.5 817h0M148.5 814h0M148 812.5h0M148.5 811h0M148 807h0M149 802.5h0M149 799.5h0M151.5 822h0M152 819.5h0M151.5 818.5h0M152 815.5h0M152.5 814h0M151.5 812h0M152 810h0M152.5 805.5h0M152 804.5h0M151.5 801.5h0M151.5 796.5h0M152.5 794.5h0M152 793h0M155.5 870h0M156 868.5h0M156 866h0M155.5 864h0M155.5 860h0M155.5 857h0M155.5 851.5h0M156 848h0M156 840h0M155.5 839h0M157 834.5h0M159.5 828h0M159 826.5h0M159 823.5h0M159 820.5h0M159.5 817.5h0M159.5 814.5h0M160 813h0M159 811h0M159 809.5h0M159.5 805h0M160 828h0M160 826.5h0M160 825h0M159.5 822.5h0M160.5 818.5h0M160 815h0M160 809.5h0M164.5 873h0M165 871.5h0M164.5 869h0M164.5 868h0M165 865h0M164 863h0M165 859.5h0M164.5 856h0M164.5 853h0M164 851.5h0M165 824.5h0M168.5 848.5h0M169 845.5h0M168.5 843h0M169 839.5h0M169.5 837h0M169 832h0M169.5 829h0M169 822.5h0M169 818.5h0M172.5 848.5h0M173 846.5h0M173.5 844.5h0M173 842h0M173 839.5h0M173 836h0M173 833.5h0M172.5 829h0M172.5 827.5h0M173 826h0M173 819.5h0M173 818.5h0M177 848.5h0M177 845.5h0M176.5 843h0M176.5 840h0M177 837.5h0M177 836.5h0M177 834h0M176.5 832h0M177 826h0M177 823.5h0M181.5 848.5h0M182 845.5h0M181.5 843.5h0M181 842.5h0M181 838.5h0M181 835.5h0M181 834h0M181 831h0M181 824.5h0M182 848.5h0M181 846.5h0M181 845h0M181 844h0M181.5 842h0M181 839h0M181.5 836.5h0M181.5 835h0M181.5 829h0M172.5 806.5h0M180 800.5h0M173.5 811.5h0M223 863h0M223.5 861h0M223 859.5h0M223 858.5h0M224 856h0M223 853h0M223 850.5h0M223 846h0M224 840h0M223.5 837h0M223.5 835h0M223.5 800h0M229 829.5h0M228.5 826.5h0M228.5 825h0M228.5 822h0M228.5 818h0M229.5 829.5h0M229 827.5h0M229.5 825h0M229 823.5h0M229.5 820.5h0M229 819h0M229.5 816h0M230 814.5h0M229 812.5h0M229.5 811.5h0M229 809.5h0M229 804h0M229.5 800.5h0M235 847h0M234.5 845h0M235 843.5h0M234.5 841h0M235 837.5h0M235 833h0M234.5 829h0M235 826.5h0M235 821.5h0M238.5 847h0M238.5 844.5h0M239 841.5h0M239 839.5h0M239 838h0M239 835h0M243 847h0M242.5 844.5h0M242.5 841h0M242.5 838h0M242.5 833.5h0M242 830h0M242 827h0M242.5 826h0M242 824.5h0M242 817h0M235 801.5h0M238.5 796h0M235.5 811h0M247.5 858.5h0M248 857.5h0M247.5 856h0M247.5 854h0M248 850.5h0M247.5 846.5h0M248 842.5h0M247.5 838h0M247.5 831h0M251.5 858.5h0M251 857h0M251 855h0M251.5 853h0M251 849.5h0M251 848h0M251.5 846.5h0M251.5 844h0M251 839.5h0M251 833.5h0M253.5 858.5h0M253 856h0M253.5 854.5h0M254 851.5h0M253 848h0M253.5 844.5h0M252.5 812.5h0M251 819h0M249.5 820h0M291.5 855.5h0M291.5 854h0M291 851h0M291 848.5h0M292 845h0M291.5 841.5h0M291 840h0M291.5 835.5h0M291.5 832.5h0M293.5 855.5h0M293.5 854.5h0M293.5 853h0M293 851h0M293.5 847.5h0M293.5 845.5h0M293 842h0M293.5 838.5h0M293.5 835.5h0M293 812.5h0M292 819h0M298 842.5h0M298.5 841.5h0M298.5 840h0M298.5 838h0M299 835.5h0M298 833.5h0M298.5 829h0M298 827.5h0M298.5 823h0M299 816h0M299 814.5h0M301 792h0M307.5 860h0M307 859h0M307 857h0M307.5 856h0M308 854h0M307.5 852.5h0M307.5 850h0M308 846h0M307 841h0M307.5 838h0M309.5 860h0M310 857.5h0M310 856.5h0M309 855h0M310 854h0M310 852h0M309 849h0M309 844h0M310 838h0M308 824.5h0M308 823h0M314.5 868.5h0M315 867.5h0M314 866h0M315 863h0M315 861h0M315 858.5h0M314.5 854.5h0M314.5 850h0M314.5 845.5h0M314.5 844.5h0M317.5 868.5h0M317 867h0M317.5 865.5h0M317 864.5h0M317 862.5h0M317 812.5h0M314.5 814.5h0M351 870h0M351 867.5h0M350.5 865.5h0M351 864h0M350.5 862h0M351 858.5h0M351 855h0M351.5 852.5h0M351 848.5h0M353.5 870h0M354.5 868.5h0M354.5 867.5h0M354 865h0M354 862h0M353.5 858.5h0M353.5 853.5h0M354 848h0M353.5 841.5h0M355 870h0M354.5 865.5h0M355 862.5h0M354.5 859h0M355 856.5h0M355 854.5h0M355 850h0M354 835h0M353.5 830h0M360 870h0M359.5 869h0M359.5 867.5h0M359.5 866h0M359 863h0M360 860.5h0M360 858.5h0M359.5 857h0M359 854.5h0M359.5 852.5h0M359 849.5h0M359.5 847h0M359.5 843h0M360 838.5h0M360.5 825.5h0M363.5 866h0M363.5 864h0M364 862h0M363.5 859h0M363.5 856.5h0M364 853.5h0M364 851.5h0M364 820h0M368.5 847h0M369 845.5h0M368.5 844h0M368.5 842.5h0M369 839.5h0M368.5 836.5h0M368 834.5h0M368.5 833h0M368.5 832h0M369 830h0M369 825h0M369 823h0M371.5 847h0M372 844h0M372 843h0M372 840h0M371.5 837h0M371.5 834.5h0M371.5 832h0M376.5 847h0M376 844.5h0M376.5 842h0M377 840h0M376 838h0M376.5 833.5h0M376.5 831.5h0M376.5 825.5h0M376.5 823h0M377 847h0M377 845h0M376 843.5h0M377 842h0M376.5 838h0M377 835.5h0M376.5 832.5h0M376.5 829h0M376.5 820h0M375 808.5h0M374.5 811.5h0M371.5 811h0M404 866h0M404 863h0M404 860.5h0M403.5 858.5h0M404 857.5h0M403.5 853.5h0M404 850h0M403.5 847h0M404 840h0M403.5 839h0M407.5 866h0M407 864h0M407.5 862.5h0M407.5 860h0M407.5 858h0M407 856.5h0M408 853.5h0M408 849h0M407 843h0M408 841.5h0M404.5 830h0M406.5 828h0M413 854h0M412.5 852h0M412.5 851h0M412.5 848.5h0M413 847h0M412.5 843.5h0M412.5 839.5h0M412.5 836.5h0M413 834.5h0M416.5 854h0M415.5 851.5h0M415.5 850h0M415.5 849h0M416 846.5h0M416.5 844h0M416 843h0M416.5 838h0M416 832.5h0M418.5 854h0M419 852h0M419.5 849.5h0M419.5 846h0M419 844h0M418.5 841h0M419.5 840h0M419 837.5h0M424 854h0M424 852h0M424.5 849.5h0M423.5 846.5h0M423.5 842h0M424.5 839.5h0M424 834h0M423.5 832h0M424.5 825h0M425 854h0M425 852h0M425 851h0M425 849.5h0M425 847.5h0M425 846.5h0M425 842.5h0M425 837.5h0M425 834h0M424.5 832h0M424.5 825.5h0M423 811h0M419.5 807.5h0M421.5 811h0M413.5 810h0M459.5 852.5h0M459.5 851h0M459 849.5h0M459.5 848.5h0M459.5 846h0M459 844h0M459.5 841h0M460 837.5h0M459 836.5h0M459.5 834.5h0M459.5 830h0M459 829h0M462.5 852.5h0M463 850h0M463 848.5h0M463 846h0M462.5 844h0M462.5 840h0M462.5 837.5h0M462.5 835.5h0M462.5 831.5h0M463 824.5h0M465.5 852.5h0M465.5 850h0M465.5 848h0M466 846h0M466 844.5h0M465.5 842.5h0M465.5 840.5h0M465.5 839h0M465 836h0M465 832.5h0M465.5 826.5h0M462 808h0M465 810.5h0M459.5 811h0M470.5 855.5h0M470.5 853.5h0M470.5 852.5h0M471 850h0M471 848h0M470.5 845.5h0M470.5 840.5h0M470 835.5h0M474 855.5h0M473.5 854.5h0M473.5 852.5h0M473.5 851h0M473.5 848h0M474 844.5h0M473.5 840.5h0M474 838h0M474 835.5h0M474 834h0M474 830.5h0M475.5 855.5h0M476.5 854.5h0M476.5 852.5h0M476.5 850h0M475.5 846.5h0M474.5 794.5h0M471 811h0M474.5 807.5h0M503 852.5h0M502.5 851.5h0M502.5 849h0M502.5 846h0M502.5 842h0M503 838.5h0M502.5 833h0M502 826.5h0M503 817h0M508 822h0M508 820.5h0M508 818h0M507.5 816h0M507.5 813h0M508 810.5h0M507.5 808h0M507.5 802h0M507 798.5h0M509.5 822h0M509 821h0M509.5 818.5h0M509.5 816h0M509 814.5h0M509.5 812h0M509.5 809.5h0M509 807h0M509.5 802.5h0M509.5 796h0M513.5 851h0M514 850h0M514.5 849h0M514 846.5h0M514 845h0M514 842.5h0M514 840h0M513.5 836.5h0M514.5 833.5h0M514 829h0M514.5 795h0M536 868h0M536 867h0M536 865.5h0M536 863.5h0M535.5 862h0M535.5 859h0M536 856h0M535.5 854h0M535.5 852h0M537 868h0M537.5 866h0M537.5 863.5h0M538 861h0M537.5 858.5h0M537.5 855.5h0M537.5 852h0M536.5 827h0M537.5 831h0M542.5 858h0M543 855h0M543 853.5h0M542.5 851h0M542.5 847h0M542 845h0M542.5 843.5h0M543 838.5h0M542.5 831.5h0M546.5 858h0M546 856.5h0M546.5 855h0M546.5 854h0M546 853h0M546.5 851.5h0M546 849.5h0M545.5 848h0M546 846.5h0M546 844.5h0M546.5 841h0M546.5 855.5h0M546.5 852.5h0M546.5 847.5h0M546 845.5h0M547 841h0M547 837.5h0M546.5 832h0M545.5 819.5h0M567 860h0M567.5 858.5h0M566.5 856.5h0M567 854.5h0M567 853h0M567 850h0M567 846h0M567 842.5h0M567.5 841h0M567.5 860h0M567 859h0M567.5 856h0M567.5 853.5h0M567.5 850.5h0M567 847.5h0M567.5 846h0M567 808h0M572 848h0M572.5 845.5h0M572 843.5h0M572.5 842h0M572.5 838.5h0M573 837.5h0M572 833.5h0M573 828.5h0M572.5 825.5h0M572.5 848h0M573 846.5h0M573 844h0M573 841h0M572.5 839.5h0M572.5 837h0M573 835.5h0M572.5 831.5h0M573 825.5h0M573 817.5h0M572.5 801h0M592.5 858h0M593 855h0M592.5 853.5h0M592.5 850h0M592.5 848.5h0M592.5 847h0M592.5 843.5h0M592.5 838h0M592.5 833.5h0M595.5 858h0M595 856h0M596 854h0M595.5 852h0M595 848.5h0M595.5 845.5h0M595.5 844h0M595.5 838.5h0M595.5 835.5h0M597.5 858h0M598 856h0M598 853.5h0M597.5 852h0M597.5 849.5h0M598 848h0M598 845.5h0M597.5 843h0M597.5 841.5h0M597.5 838h0M597.5 831h0M595 810h0M595 818h0M594 819.5h0M609.5 874h0M610 871h0M609.5 869.5h0M609 867.5h0M609 864h0M610 862h0M609.5 857h0M613.5 874h0M613.5 872h0M613 869.5h0M612.5 866h0M612.5 863.5h0M613 862h0M613.5 858h0M613 854h0M613 874h0M614 873h0M613 871.5h0M613.5 869h0M613 866h0M613 864h0M613 860h0M613.5 854.5h0M613 836h0M613 822.5h0M619 874h0M618.5 872.5h0M619 871h0M618 868.5h0M618.5 865h0M618.5 862.5h0M619 861h0M618 856h0M618.5 849.5h0M618.5 846.5h0M623 874h0M622.5 871.5h0M623 869h0M623 865.5h0M623 864h0M623 861h0M623 857h0M622.5 851h0M623.5 872.5h0M623 871.5h0M624 870h0M623 867h0M624 865h0M623 861.5h0M623.5 860.5h0M623.5 858.5h0M624 855h0M624 851h0M619.5 837.5h0M623 832h0M628.5 863h0M628.5 861.5h0M628 859h0M628.5 856.5h0M628.5 855h0M629 853.5h0M629 849h0M628.5 847h0M628.5 844h0M628.5 838h0M633 863h0M633 860.5h0M633 859.5h0M634 857h0M633 855h0M634 853.5h0M633.5 851.5h0M633.5 848.5h0M633.5 844h0M633.5 841.5h0M634 834.5h0M634 863h0M634 861.5h0M634.5 859h0M634 857.5h0M634 856.5h0M634.5 854.5h0M634.5 853h0M634 850h0M634 847h0M633.5 844.5h0M634.5 840h0M634.5 839h0M630.5 824h0M630 822.5h0M629 824h0" stroke="#545454" stroke-width="5.4" stroke-linecap="round" fill="none"/>
</g>
<path d="M155.7 786V834" stroke="#fff" stroke-width="1.6" stroke-opacity="0.85"/>
<path d="M359.5 834V1038" stroke="#fff" stroke-width="1.3" stroke-opacity="0.85"/>
<path d="M164.5 786V845" stroke="#fff" stroke-width="3.0" stroke-opacity="0.85"/>
<path d="M77.3 835V980" stroke="#fff" stroke-width="1.1" stroke-opacity="0.4"/>
<path d="M76.9 1034.6V1038.8" stroke="#fff" stroke-width="1.3" stroke-opacity="0.85"/>
<path d="M119.5 755h0M119.5 758h0M119.5 761h0M119.5 763.5h0M119.5 766.5h0M125.5 765h0M132.5 766h0M104 767.5h0M109 769h0M113.5 773h0M116.5 775h0M119.5 777h0M119.5 779.5h0M109 781h0M109 784h0M109 787h0M109 790h0M125.5 782.5h0M119.5 784h0M119.5 787h0M119.5 790h0M190 739h0M190 741.5h0M190 744h0M190 747h0M190 749.5h0M190 752h0M190 755h0M190 757.5h0M190 760h0M190 763h0M187.5 742h0M187.5 751.5h0M207 683.5h0M207 703h0M207 706h0M207 709h0M207 712h0M207 714.5h0M207 729.5h0M207 732h0M207 735h0M207 738h0M207 741h0M207 744h0M207 746.5h0M207 749.5h0M207 752.5h0M207 755.5h0M207 758h0M207 761h0M207 764h0M207 767h0M207 770h0M207 772.5h0M207 775.5h0M207 778.5h0M207 781.5h0M207 784h0M207 787h0M207 790h0M219 760h0M196.5 772h0M221 776h0M221 778h0M221 780h0M221 782.5h0M262.5 744h0M263.5 756h0M263.5 758.5h0M263.5 761h0M263.5 763.5h0M263.5 766.5h0M263.5 769h0M264 777.5h0M264 780h0M264 782.5h0M264 785h0M264 787.5h0M264 790h0M261.5 782h0M274 777h0M283 774h0M283 776.5h0M283 779.5h0M283 782h0M283 784.5h0M283 787.5h0M283 790h0M322.5 760h0M322.5 774h0M325 778h0M379.5 746h0M379.5 764.5h0M383.5 771h0M383.5 777.5h0M390.5 781h0M429.5 787h0M442.5 714h0M435.5 740h0M454 746h0M454 748h0M450 750h0M443 756h0M439.5 764.5h0M439.5 767.5h0M444.5 769h0M453.5 766.5h0M449 775h0M449 780.5h0M454 779.5h0M488.5 755.5h0M488.5 765h0M429.5 786.5h0M439.5 786h0M491.5 789h0M534 720h0M534 734h0M552 742h0M552 744h0M552 745.5h0M556 744h0M551.5 755h0M556 755h0M534 762h0M590 750h0M606 739h0M606 742h0M606 744.5h0M606 747.5h0M606 750h0M606 753h0M606 755.5h0M606 758.5h0M606 761h0M606 764h0M603 747h0M607.5 771h0M607.5 780h0M553.5 782h0M556 786.5h0M556 788.5h0M556 790h0M668.5 920.5h0M668.5 956h0M668.5 1019h0M668.5 1021.5h0M668.5 1033h0M104 790h0M104 793h0M104 795.5h0M104 798.5h0M104 801h0M104 804h0M104 806.5h0M104 809.5h0M104 812h0M104 815h0M119.5 786h0M119.5 789h0M119.5 792h0M119.5 795h0M119.5 797.5h0M110 787.5h0M113 793.5h0M125.5 792h0M113.5 802h0M129 802h0M124.5 808.5h0M132.5 808.5h0M137 812.5h0M135 815h0M144.5 805.5h0M146 805h0M189.5 789h0M189.5 791.5h0M189.5 794.5h0M189.5 797h0M189.5 799.5h0M189.5 802.5h0M189.5 805h0M197 789h0M197 791.5h0M197 794.5h0M197 797h0M197 799.5h0M197 802.5h0M197 805h0M206.5 786h0M206.5 788.5h0M206.5 791.5h0M206.5 794h0M206.5 796.5h0M206.5 799.5h0M206.5 802h0M211 795.5h0M221 791h0M220.5 800.5h0M213 805.5h0M217.5 808h0M275 808h0M270 821h0M338 803.5h0M338 806.5h0M322.5 792.5h0M324 800.5h0M322.5 807h0M325.5 811.5h0M322.5 816.5h0M334.5 808h0M344 795h0M339.5 802h0M345.5 805h0M346 822.5h0M380.5 796h0M380.5 799h0M380.5 802h0M380.5 805h0M391.5 792h0M391.5 795h0M383.5 816.5h0M386 810h0M429.5 808h0M429.5 811h0M429.5 814h0M429.5 816.5h0M429.5 819.5h0M429.5 788h0M439.5 793.5h0M444 792h0M439.5 799h0M446 800h0M452 790.5h0M454 794h0M452 800h0M439 786.5h0M491.5 789.5h0M496 796h0M488.5 800h0M496 805h0M490 808h0M521 808h0M521 811h0M521 813.5h0M520 808.5h0M534 791h0M533 809.5h0M530 809.5h0M555.5 786h0M555.5 789h0M555.5 792h0M555.5 795h0M555.5 797.5h0M555.5 800.5h0M562.5 811.5h0M580 791h0M580 800h0M579 812.5h0M588.5 805.5h0M588.5 813h0M584 818h0M606 803.5h0M608.5 825.5h0M640 827.5h0M640 837h0" stroke="#8f8f8f" stroke-width="5.4" stroke-linecap="round" fill="none"/>
<path d="M53.5 742.5h0M53.5 744.5h0M53.5 747h0M64.5 740h0M64.5 752.5h0M64.5 757h0M64.5 760h0M64.5 762.5h0M64.5 765.5h0M64.5 768.5h0M64.5 771h0M64.5 774h0M54 760h0M90.5 766h0M90.5 767.5h0M90.5 769.5h0M54 787h0M56.5 788.5h0M173.5 734h0M148.5 749h0M151.5 754h0M151.5 760h0M148.5 768.5h0M158 765.5h0M150 775.5h0M150 778h0M150 781h0M150 784h0M150 787h0M150 790h0M159.5 781.5h0M170.5 781h0M236.5 777h0M236.5 785h0M248 745.5h0M248 747.5h0M248 750h0M248 752h0M249.5 750h0M237 777h0M237 785h0M246.5 783.5h0M311 766.5h0M297.5 779.5h0M291 782.5h0M294 785h0M298 787h0M311.5 785.5h0M376 730.5h0M408 746h0M408 757h0M408 762h0M411.5 767.5h0M403.5 776.5h0M351.5 768h0M351.5 770.5h0M351.5 773.5h0M351.5 776h0M351.5 784h0M460.5 761.5h0M508.5 751h0M509.5 773h0M508.5 779.5h0M508.5 781.5h0M508.5 784h0M508.5 786h0M506 785h0M510.5 783h0M473 783h0M473 785.5h0M473 787.5h0M473 790h0M593.5 760h0M593.5 766h0M575 775h0M575 777.5h0M575 780h0M575 782.5h0M575 785h0M596.5 780.5h0M626.5 728.5h0M626.5 731h0M626.5 733.5h0M626.5 742.5h0M626.5 748h0M630.5 777h0M630.5 779.5h0M630.5 782h0M630.5 789.5h0M672 917h0M672 933h0M672 935.5h0M672 938h0M672 941h0M672 948h0M673 959h0M673 1017h0M672.5 1019h0M673 1032h0M673 1034h0M673 1036h0M68.5 792h0M68.5 794.5h0M68.5 797.5h0M68.5 800h0M68.5 803h0M68.5 805.5h0M68.5 808.5h0M68.5 811h0M68.5 814h0M68.5 816.5h0M94.5 797.5h0M94.5 800.5h0M94.5 803.5h0M94.5 806.5h0M94.5 809.5h0M94.5 812.5h0M94.5 815h0M94.5 818h0M94.5 821h0M94.5 824h0M94.5 827h0M94.5 830h0M82 809h0M82 812h0M82 814.5h0M82 817.5h0M82 820.5h0M82 823h0M82 826h0M83.5 797.5h0M90.5 795h0M96 792h0M91.5 809.5h0M90.5 816.5h0M150 786h0M150 789h0M150 791.5h0M150 794.5h0M150 797h0M150 800h0M159.5 792h0M159.5 794.5h0M159.5 797.5h0M159.5 800h0M169 813h0M175 815h0M182.5 813h0M228.5 793h0M228.5 795.5h0M228.5 797.5h0M228.5 800h0M236.5 786h0M246 794h0M246 797.5h0M254 797.5h0M256 795.5h0M246 805.5h0M246 812.5h0M252.5 807h0M252.5 810h0M252.5 812.5h0M252.5 815h0M252.5 818h0M298 796h0M298 798.5h0M298 801h0M298 804h0M298 806.5h0M309.5 786h0M309.5 789h0M309.5 792h0M309.5 795h0M309.5 797.5h0M309.5 800.5h0M309.5 803.5h0M292.5 806.5h0M303.5 805h0M314 797.5h0M315.5 800.5h0M308.5 809.5h0M316 813h0M317 830h0M301.5 789h0M292 787.5h0M351.5 797h0M351.5 800h0M351.5 802.5h0M351.5 805.5h0M351.5 808.5h0M351.5 811h0M351.5 814h0M351.5 817h0M351.5 820h0M351.5 822.5h0M351.5 825.5h0M351.5 828.5h0M351.5 831h0M351.5 834h0M371.5 795.5h0M372.5 800.5h0M374 805.5h0M423 800h0M423 802.5h0M423 805h0M423 807.5h0M423 810h0M423 812.5h0M407.5 791h0M409 796h0M407.5 802h0M403.5 797.5h0M411 812.5h0M403 820.5h0M407.5 824.5h0M425.5 799h0M473 786h0M473 788h0M473 790.5h0M473 792.5h0M461 793.5h0M463 792.5h0M460 802h0M473 808h0M476 814.5h0M473 817.5h0M504 797h0M504.5 808.5h0M511 800.5h0M514.5 807h0M546.5 813h0M546.5 816h0M546.5 819h0M546.5 822h0M537.5 822h0M537.5 824.5h0M537.5 827h0M537.5 829.5h0M537.5 832h0M545 801.5h0M545 805.5h0M543.5 814.5h0M541 816.5h0M538 822h0M575.5 800.5h0M572.5 808.5h0M569 815h0M596 789.5h0M596 792.5h0M596 795.5h0M596 798.5h0M596 801.5h0M596 804.5h0M596 807.5h0M596 810.5h0M596 813h0M596 816h0M596 819h0M596 822h0M593 803.5h0M593 811h0M630.5 789h0M630.5 791.5h0M630.5 794h0M630.5 796.5h0M630.5 799h0M622.5 809h0M622.5 811.5h0M622.5 813.5h0M610.5 809.5h0M624.5 801h0M622 804h0M629 802.5h0M628.5 812.5h0M635.5 817.5h0M620 823h0M610.5 836h0M618 835h0" stroke="#545454" stroke-width="5.4" stroke-linecap="round" fill="none"/>
<path d="M46.3 591.5V1045.1H680" fill="none" stroke="#cccccc" stroke-width="1.8"/>
<path d="M42.3 1035.4h3.2" stroke="#333333" stroke-width="1.1"/>
<text x="40.6" y="1040.8" font-size="15.2" fill="#4d4d4d" text-anchor="end">0</text>
<path d="M42.3 916.5h3.2" stroke="#333333" stroke-width="1.1"/>
<text x="40.6" y="921.9" font-size="15.2" fill="#4d4d4d" text-anchor="end">2</text>
<path d="M42.3 797.5h3.2" stroke="#333333" stroke-width="1.1"/>
<text x="40.6" y="802.9" font-size="15.2" fill="#4d4d4d" text-anchor="end">4</text>
<path d="M42.3 678.6h3.2" stroke="#333333" stroke-width="1.1"/>
<text x="40.6" y="684.0" font-size="15.2" fill="#4d4d4d" text-anchor="end">6</text>
<path d="M76.4 1046.0v3.4" stroke="#333333" stroke-width="1.1"/>
<text x="76.4" y="1062.2" font-size="15.2" fill="#4d4d4d" text-anchor="middle">1</text>
<path d="M123.7 1046.0v3.4" stroke="#333333" stroke-width="1.1"/>
<text x="123.7" y="1062.2" font-size="15.2" fill="#4d4d4d" text-anchor="middle">2</text>
<path d="M166.7 1046.0v3.4" stroke="#333333" stroke-width="1.1"/>
<text x="166.7" y="1062.2" font-size="15.2" fill="#4d4d4d" text-anchor="middle">3</text>
<path d="M204.4 1046.0v3.4" stroke="#333333" stroke-width="1.1"/>
<text x="204.4" y="1062.2" font-size="15.2" fill="#4d4d4d" text-anchor="middle">4</text>
<path d="M239.8 1046.0v3.4" stroke="#333333" stroke-width="1.1"/>
<text x="239.8" y="1062.2" font-size="15.2" fill="#4d4d4d" text-anchor="middle">5</text>
<path d="M274.2 1046.0v3.4" stroke="#333333" stroke-width="1.1"/>
<text x="274.2" y="1062.2" font-size="15.2" fill="#4d4d4d" text-anchor="middle">6</text>
<path d="M306.0 1046.0v3.4" stroke="#333333" stroke-width="1.1"/>
<text x="306.0" y="1062.2" font-size="15.2" fill="#4d4d4d" text-anchor="middle">7</text>
<path d="M335.9 1046.0v3.4" stroke="#333333" stroke-width="1.1"/>
<text x="335.9" y="1062.2" font-size="15.2" fill="#4d4d4d" text-anchor="middle">8</text>
<path d="M363.4 1046.0v3.4" stroke="#333333" stroke-width="1.1"/>
<text x="363.4" y="1062.2" font-size="15.2" fill="#4d4d4d" text-anchor="middle">9</text>
<path d="M390.1 1046.0v3.4" stroke="#333333" stroke-width="1.1"/>
<text x="390.1" y="1062.2" font-size="15.2" fill="#4d4d4d" text-anchor="middle">10</text>
<path d="M416.3 1046.0v3.4" stroke="#333333" stroke-width="1.1"/>
<text x="416.3" y="1062.2" font-size="15.2" fill="#4d4d4d" text-anchor="middle">11</text>
<path d="M442.5 1046.0v3.4" stroke="#333333" stroke-width="1.1"/>
<text x="442.5" y="1062.2" font-size="15.2" fill="#4d4d4d" text-anchor="middle">12</text>
<path d="M466.6 1046.0v3.4" stroke="#333333" stroke-width="1.1"/>
<text x="466.6" y="1062.2" font-size="15.2" fill="#4d4d4d" text-anchor="middle">13</text>
<path d="M487.9 1046.0v3.4" stroke="#333333" stroke-width="1.1"/>
<text x="487.9" y="1062.2" font-size="15.2" fill="#4d4d4d" text-anchor="middle">14</text>
<path d="M508.5 1046.0v3.4" stroke="#333333" stroke-width="1.1"/>
<text x="508.5" y="1062.2" font-size="15.2" fill="#4d4d4d" text-anchor="middle">15</text>
<path d="M526.8 1046.0v3.4" stroke="#333333" stroke-width="1.1"/>
<text x="526.8" y="1062.2" font-size="15.2" fill="#4d4d4d" text-anchor="middle">16</text>
<path d="M543.7 1046.0v3.4" stroke="#333333" stroke-width="1.1"/>
<path d="M558.7 1046.0v3.4" stroke="#333333" stroke-width="1.1"/>
<text x="558.7" y="1062.2" font-size="15.2" fill="#4d4d4d" text-anchor="middle">18</text>
<path d="M572.1 1046.0v3.4" stroke="#333333" stroke-width="1.1"/>
<path d="M583.8 1046.0v3.4" stroke="#333333" stroke-width="1.1"/>
<text x="583.8" y="1062.2" font-size="15.2" fill="#4d4d4d" text-anchor="middle">20</text>
<path d="M595.1 1046.0v3.4" stroke="#333333" stroke-width="1.1"/>
<path d="M604.2 1046.0v3.4" stroke="#333333" stroke-width="1.1"/>
<text x="604.2" y="1062.2" font-size="15.2" fill="#4d4d4d" text-anchor="middle">22</text>
<path d="M624.3 1046.0v3.4" stroke="#333333" stroke-width="1.1"/>
<text x="624.3" y="1062.2" font-size="15.2" fill="#4d4d4d" text-anchor="middle">X</text>
<path d="M654.3 1046.0v3.4" stroke="#333333" stroke-width="1.1"/>
<text x="654.3" y="1062.2" font-size="15.2" fill="#4d4d4d" text-anchor="middle">XY</text>
<path d="M671.8 1046.0v3.4" stroke="#333333" stroke-width="1.1"/>
<text x="671.8" y="1062.2" font-size="15.2" fill="#4d4d4d" text-anchor="middle">Y</text>
<text x="363.2" y="1082.6" font-size="19.5" fill="#000" text-anchor="middle" textLength="119" lengthAdjust="spacingAndGlyphs">Chromosome</text>
<g transform="translate(17.5,861) rotate(-90)" fill="#000"><text font-size="20"><tspan x="-0.8" y="0.8">&#8722;</tspan><tspan x="12" y="0">log</tspan><tspan x="38.5" y="4.6" font-size="14">10</tspan><tspan x="64.2" y="0" font-style="italic" font-size="21">p</tspan></text></g>
<path transform="translate(0,564.2)" d="M0.9 216.6Q9 203.2 23.6 219.8Q9 209.2 0.9 216.6Z M0.9 232.2Q14 248.6 23.6 236.4Q14 242.6 0.9 232.2Z" fill="#000"/>
<path d="M47.0 601.3H678" stroke="#d08a26" stroke-width="2" stroke-dasharray="9.1 9.156"/>
<path d="M47.0 738.1H678" stroke="#3f7fd6" stroke-width="2" stroke-dasharray="9.1 9.156"/>
<path d="M132.5 729.5h0M190 733.5h0M207 677h0M211.5 716h0M219 713.5h0M442.5 701h0M534 716h0" stroke="#6fb7fb" stroke-width="5.4" stroke-linecap="round" fill="none"/>
<path d="M53.5 690h0M83.5 691.5h0M64.5 725.5h0M90.5 736.5h0M150 716.5h0M158 707h0M408 696.5h0M508.5 666.5h0M460.5 736.5h0M574.5 730h0M626.5 725.5h0" stroke="#4292f6" stroke-width="5.4" stroke-linecap="round" fill="none"/>
<text y="596.5" font-size="11.5" fill="#d08a26"><tspan x="647.26">5</tspan><tspan x="653.75" dy="0.8" font-size="13.2">×</tspan><tspan x="663.3 669.57" dy="-0.8">10</tspan></text>
<text x="677.1" y="594.7" font-size="6.5" fill="#d08a26">-8</text>
<text y="732.1" font-size="11.5" fill="#3f7fd6"><tspan x="645.6">1</tspan><tspan x="651.75" dy="0.8" font-size="13.2">×</tspan><tspan x="660.4 666.95" dy="-0.8">10</tspan></text>
<text x="673.9" y="730.0" font-size="6.5" fill="#3f7fd6">-5</text>
</svg></body></html>
